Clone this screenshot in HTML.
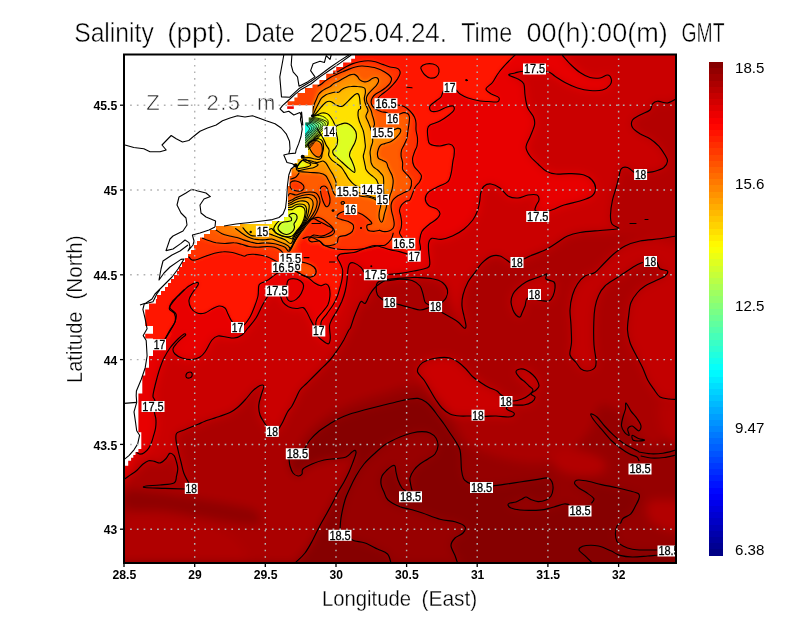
<!DOCTYPE html>
<html><head><meta charset="utf-8"><title>Salinity</title>
<style>html,body{margin:0;padding:0;background:#fff}svg{display:block}text{font-family:"Liberation Sans",sans-serif}</style></head><body>
<svg width="800" height="618" viewBox="0 0 800 618" style="opacity:0.999">
<defs><clipPath id="pc"><rect x="124.0" y="54.5" width="552.0" height="508.5"/></clipPath>
<filter id="bl" x="-5%" y="-5%" width="110%" height="110%"><feGaussianBlur stdDeviation="2.2"/></filter>
<filter id="blbig" x="-10%" y="-10%" width="120%" height="120%"><feGaussianBlur stdDeviation="5"/></filter><filter id="bl2" x="-5%" y="-5%" width="110%" height="110%"><feGaussianBlur stdDeviation="1.0"/></filter>
<clipPath id="sea"><path clip-rule="evenodd" d="M124.0 54.5H676.0V563.0H124.0Z M110 40L355 40L355 58.8L351.2 58.8L351.2 62.5L343.1 62.5L343.1 66.9L336.2 66.9L336.2 70.6L333.1 70.6L333.1 73.8L326.2 73.8L326.2 80L319.4 80L319.4 84.4L312.5 84.4L312.5 88.1L305 88.1L305 93.1L297.5 93.1L297.5 97.5L294.4 97.5L294.4 101.2L287.5 101.2L287.5 105.2L312.5 105.2L312.5 117.5L308.8 117.5L308.8 122.5L305 122.5L305 147.5L308 147.5L308 155.6L301 155.6L301 159L297.5 159L297.5 163L294.5 163L294.5 168L291.5 168L291.5 176L289.5 176L289.5 186L288 186L288 217L284 217L284 221L272 221L272 224L240 224L240 226L216 226L216 230L210 230L210 234L204 234L204 237.4L200 237.4L200 241L197 241L197 245L194 245L194 250L191 250L191 254L188 254L188 258L185 258L185 262L182 262L182 267L179 267L179 271L177 271L177 275L174 275L174 279L171 279L171 283L168 283L168 287L165 287L165 291L161 291L161 295L157 295L157 299L155.9 299L155.9 303.6L149 303.6L149 309.4L145.2 309.4L145.2 326L153 326L153 333.7L145.2 333.7L145.2 338.5L153 338.5L153 356L149 356L149 367.7L145.2 367.7L145.2 375.4L142.3 375.4L142.3 393.6L138.4 393.6L138.4 432.3L141.3 432.3L141.3 449L138.4 449L138.4 452L135.5 452L135.5 454.9L133.3 454.9L133.3 457.8L131.1 457.8L131.1 460.7L128.2 460.7L128.2 465.8L124.6 465.8L124.6 468L110 468Z"/></clipPath></defs>
<rect width="800" height="618" fill="#fff"/>
<g clip-path="url(#pc)">
<g filter="url(#blbig)">
<rect x="60" y="0" width="680" height="618" fill="#aa0000"/>
<path d="M110 479C112.4 552.1 121.1 479.6 124.6 478.9C128.1 478.1 129 475.9 131.1 474.5C133.2 473.1 135.1 471.9 137 470.2C138.9 468.5 140.9 465.9 142.8 464.3C144.7 462.7 146.7 461.2 148.6 460.7C150.5 460.2 152.4 461 154.4 461.4C156.4 461.8 158.4 463.4 160.3 462.9C162.2 462.4 164.5 460.1 166.1 458.5C167.7 456.9 168.4 453.9 169.7 453.4C171 452.9 173 454.3 174.1 455.6C175.2 456.9 175.7 459.2 176.3 461.4C176.9 463.6 175.7 465.1 177.8 468.7C179.9 472.3 187.8 482.3 188.8 483C189.7 483.7 185 476.5 183.8 473C182.5 469.5 182 465.8 181 462C180 458.2 178.8 453.7 178 450C177.2 446.3 176.2 442.8 176 440C175.8 437.2 175.5 435 176.5 433.5C177.5 432 179.8 431.8 182.1 430.8C184.3 429.8 187.3 428.6 190 427.5C192.7 426.4 195.5 425.3 198 424.3C200.5 423.3 201.3 422.6 205 421.2C208.7 419.9 215.8 417.7 220 416.2C224.2 414.8 227.1 414 230 412.5C232.9 411 235 409.6 237.5 407.5C240 405.4 242.5 402.7 245 400C247.5 397.3 250 393.7 252.5 391.2C255 388.8 258.1 386.3 260 385.5C261.9 384.7 263.5 384.7 263.8 386.2C264 387.8 262.1 391.9 261.2 395C260.4 398.1 259 401.7 258.8 405C258.5 408.3 259 411.9 260 415C261 418.1 263.7 421.6 265 423.8C266.3 425.9 266.8 426.8 268 428C269.2 429.2 270.2 430.9 272 431C273.8 431.1 277 430.2 278.8 428.8C280.5 427.3 281 425.3 282.5 422.5C284 419.7 285.9 414.8 287.5 412C289.1 409.2 290.6 408.3 292 406C293.4 403.7 294.7 400.7 296 398C297.3 395.3 298.3 392.3 300 390C301.7 387.7 304 386 306 384C308 382 309.7 380.3 312 378C314.3 375.7 317 373 320 370C323 367 327.1 363.3 330 360C332.9 356.7 335.2 353.3 337.5 350C339.8 346.7 341.9 343.3 343.8 340C345.6 336.7 347.6 332 348.8 330C349.9 328 349.6 329.9 350.5 327.8C351.4 325.6 352.8 320.5 354 317.2C355.2 314 356.3 311.1 357.5 308.5C358.7 305.9 359.7 302.4 361 301.5C362.3 300.6 363.9 304.4 365.4 303.2C366.9 302.1 368.1 297.1 369.8 294.5C371.4 291.9 373 289.5 375 287.5C377 285.5 380 283.6 382 282.2C384 280.9 384.7 280.2 387 279.6C389.3 279 392.2 278.8 396 278.5C399.8 278.2 406.4 277.9 410 277.7C413.6 277.5 413.8 277.3 417.5 277.5C421.2 277.7 428.3 277.9 432.5 278.8C436.7 279.6 440 280.6 442.5 282.5C445 284.4 445.9 286.2 447.5 290C449.1 293.8 449.2 298.7 452 305C454.8 311.3 461.7 324.5 464 328C466.3 331.5 466 328 466 326C466 324 464.7 319.3 464 316C463.3 312.7 462.2 309.5 462 306C461.8 302.5 462 299 463 295C464 291 466 285.8 468 282C470 278.2 472.7 275.4 475 272.3C477.3 269.2 479.2 265.9 481.9 263.2C484.6 260.5 488 257.6 491 256.4C494 255.2 496.8 255 500 256C503.2 257 507.2 261.5 510 262.5C512.8 263.5 514.7 262.6 517 262C519.3 261.4 521.8 260 524 259C526.2 258 526.5 257.5 530 256C533.5 254.5 540.8 252 545 250C549.2 248 551.2 246.3 555 244C558.8 241.7 563.3 237.9 567.5 236C571.7 234.1 574.6 233.4 580 232.5C585.4 231.6 594.7 231 600 230.5C605.3 230 608.8 229.9 612 229.5C615.2 229.1 619 229.2 619 228.3C619 227.4 613.4 226.2 612 224C610.6 221.8 610.4 219 610.5 215C610.6 211 611.5 204.6 612.5 200C613.5 195.4 615.2 191.2 616.2 187.5C617.3 183.8 617.9 180.6 618.8 177.5C619.6 174.4 619.8 170.4 621.2 168.8C622.7 167.1 625.3 166.9 627.5 167.5C629.7 168.1 632.2 171.4 634.2 172.5C636.3 173.6 637.9 174 640 174C642.1 174 644.5 173 647 172.5C649.5 172 652.2 172.1 655 171.2C657.8 170.4 661.7 169.2 663.8 167.5C665.8 165.8 667.3 163.3 667.5 161.2C667.7 159.2 666.5 157.5 665 155C663.5 152.5 661.2 149 658.8 146.2C656.2 143.5 653.1 140.8 650 138.8C646.9 136.7 642.9 135.6 640 133.8C637.1 131.9 633.8 129.8 632.5 127.5C631.2 125.2 631.2 122.1 632.5 120C633.8 117.9 637.1 116.7 640 115C642.9 113.3 647.9 111.9 650 110C652.1 108.1 651.2 105.2 652.5 103.8C653.8 102.3 655 101.4 657.5 101.2C660 101.1 664.4 103.4 667.5 103C670.6 102.6 672.2 99.7 676 99C679.8 98.3 687.7 108.8 690 99C692.3 89.2 786.7 49.8 690 40C593.3 30.2 206.7 -33.2 110 40C13.3 113.2 107.6 405.9 110 479Z" fill="#ca0000"/>
<path d="M690 236C687.7 208.8 681 235.5 676 236C671 236.5 666 237.9 660 238.8C654 239.6 645.8 239.8 640 241C634.2 242.2 629.6 243.7 625 246C620.4 248.3 616.2 251.8 612.5 255C608.8 258.2 605.4 262.1 602.5 265C599.6 267.9 597.9 270.7 595 272.5C592.1 274.3 587.9 274.1 585 276C582.1 277.9 579.6 280.8 577.5 284C575.4 287.2 573.8 290.7 572.5 295C571.2 299.3 570.2 305 570 310C569.8 315 570.8 319.6 571 325C571.2 330.4 571.7 337.5 571.5 342.5C571.3 347.5 569.2 351.7 570 355C570.8 358.3 574.2 360.2 576 362.5C577.8 364.8 579.1 367.6 581 369C582.9 370.4 585.2 371.2 587.5 371C589.8 370.8 593.6 369.3 595 367.5C596.4 365.7 596.2 363.8 596 360C595.8 356.2 594.4 351.2 594 345C593.6 338.8 593.6 328.8 593.8 322.5C593.9 316.2 594.2 312.1 595 307.5C595.8 302.9 597.1 298.6 598.8 295C600.4 291.4 602.3 288.7 605 286C607.7 283.3 611.7 281.2 615 279C618.3 276.8 621.7 274.7 625 272.5C628.3 270.3 632.1 267.7 635 266C637.9 264.3 639.8 263.3 642.5 262.5C645.2 261.7 648.6 261.1 651 261C653.4 260.9 655.5 260.7 657 262C658.5 263.3 658.2 267.2 660 268.8C661.8 270.2 666.7 269.8 667.5 271C668.3 272.2 667.1 274.3 665 276C662.9 277.7 658.3 279.3 655 281C651.7 282.7 647.9 284.1 645 286C642.1 287.9 639.8 289.8 637.5 292.5C635.2 295.2 632.5 298.8 631 302.5C629.5 306.2 629.3 310.4 628.8 315C628.2 319.6 627.3 325.4 627.5 330C627.7 334.6 628.6 338.3 630 342.5C631.4 346.7 633.9 350.8 636 355C638.1 359.2 640.5 363.3 642.5 367.5C644.5 371.7 645.8 376.4 647.7 380C649.6 383.6 651.8 386.4 653.8 389.2C655.8 392 657.4 395.4 660 397C662.6 398.6 666.5 398.6 669.2 399C671.9 399.4 672.5 399.3 676 399.4C679.5 399.5 687.7 426.6 690 399.4C692.3 372.2 692.3 263.2 690 236Z" fill="#c30000"/>
<path d="M700 99C696 76.2 681.4 98.3 676 99C670.6 99.7 670.6 102.6 667.5 103C664.4 103.4 660 101.1 657.5 101.2C655 101.4 653.8 102.3 652.5 103.8C651.2 105.2 652.1 108.1 650 110C647.9 111.9 642.9 113.3 640 115C637.1 116.7 633.8 117.9 632.5 120C631.2 122.1 631.2 125.2 632.5 127.5C633.8 129.8 637.1 131.9 640 133.8C642.9 135.6 646.9 136.7 650 138.8C653.1 140.8 656.2 143.5 658.8 146.2C661.2 149 663.5 152.5 665 155C666.5 157.5 667.7 159.2 667.5 161.2C667.3 163.3 665.8 165.8 663.8 167.5C661.7 169.2 657.8 170.4 655 171.2C652.2 172.1 649.5 172 647 172.5C644.5 173 642.1 174 640 174C637.9 174 636.3 173.6 634.2 172.5C632.2 171.4 629.7 168.1 627.5 167.5C625.3 166.9 622.7 167.1 621.2 168.8C619.8 170.4 619.6 174.4 618.8 177.5C617.9 180.6 617.3 183.8 616.2 187.5C615.2 191.2 613.5 195.4 612.5 200C611.5 204.6 610.6 211 610.5 215C610.4 219 610.6 221.8 612 224C613.4 226.2 619 227.4 619 228.3C619 229.2 615.2 229.1 612 229.5C608.8 229.9 605.3 230 600 230.5C594.7 231 573.3 231.6 580 232.5C586.7 233.4 620 235.4 640 236C660 236.6 690 258.8 700 236C710 213.2 704 121.8 700 99Z" fill="#b30000"/>
<path d="M544 275C545.8 274.3 546.7 273.3 547 274C547.3 274.7 544.8 277.7 546 279C547.2 280.3 552.5 280.5 554 282C555.5 283.5 555.2 285.7 555 288C554.8 290.3 554 293.8 553 296C552 298.2 551 300.2 549 301C547 301.8 544.5 301 541 300.5C537.5 300 530.7 297.1 528 298C525.3 298.9 526 303.5 525 306C524 308.5 522.8 311.2 522 313C521.2 314.8 521 316.7 520 317C519 317.3 517.2 316.2 516 315C514.8 313.8 513.8 312.2 513 310C512.2 307.8 511 304.7 511 302C511 299.3 511.8 296.3 513 294C514.2 291.7 515.8 290 518 288C520.2 286 523 283.7 526 282C529 280.3 533 279.2 536 278C539 276.8 542.2 275.7 544 275Z" fill="#c30000"/>
<path d="M424 380C426.1 383 428 386.7 430 390C432 393.3 434 397 436 400C438 403 439.7 405.7 442 408C444.3 410.3 447 412.7 450 414C453 415.3 456.4 415.7 460 416C463.6 416.3 467.6 415.9 471.6 416C475.6 416.1 479.9 416.4 484 416.4C488.1 416.4 492 415.9 496 416C500 416.1 505.2 417 508 417C510.8 417 512 416.7 513 416C514 415.3 514.8 414 514 413C513.2 412 509.3 410.8 508 410C506.7 409.2 506.2 408.7 506.4 408C506.6 407.3 507.9 406.5 509 406C510.1 405.5 510.5 405.2 513 405C515.5 404.8 520.8 405.5 524 405C527.2 404.5 530.2 403.3 532 402C533.8 400.7 535.2 398.3 535 397C534.8 395.7 530.8 395.2 531 394C531.2 392.8 534.7 391.3 536 390C537.3 388.7 538.8 387.7 539 386C539.2 384.3 538 381.8 537 380C536 378.2 534.8 376.7 533 375C531.2 373.3 528.2 371 526 370C523.8 369 521.7 368.7 520 369C518.3 369.3 516 370.5 516 372C516 373.5 518.5 376.3 520 378C521.5 379.7 523.5 380.7 525 382C526.5 383.3 527.7 384.7 529 386C530.3 387.3 533 388.5 533 390C533 391.5 530.8 393.5 529 395C527.2 396.5 524.7 398 522 399C519.3 400 515.7 401.2 513 401C510.3 400.8 508.2 399.2 506 398C503.8 396.8 501.5 395.2 500 394C498.5 392.8 499 392.2 497 391C495 389.8 490.8 388.5 488 387C485.2 385.5 482.7 383.8 480 382C477.3 380.2 474.3 378.2 472 376C469.7 373.8 468.3 371.3 466 369C463.7 366.7 460.7 363.8 458 362C455.3 360.2 453 358.7 450 358C447 357.3 443.7 357.3 440 357.6C436.3 357.9 431.3 358.8 428 360C424.7 361.2 421.7 363 420 365C418.3 367 416.9 369.5 417.6 372C418.3 374.5 421.9 377 424 380Z" fill="#cb0000"/>
<path d="M296 452C298.7 448.2 300.7 441.3 305 436C309.3 430.7 315.3 425 322 420C328.7 415 335.3 410.3 345 406C354.7 401.7 367.5 397.3 380 394C392.5 390.7 408.3 382.5 420 386C431.7 389.5 441.7 405.2 450 415C458.3 424.8 458.3 437.2 470 445C481.7 452.8 505 459.8 520 462C535 464.2 548.3 463.3 560 458C571.7 452.7 583.3 438.8 590 430C596.7 421.2 594.2 407.5 600 405C605.8 402.5 616.7 408.3 625 415C633.3 421.7 639.2 440.8 650 445C660.8 449.2 683.3 415.8 690 440C696.7 464.2 757.5 565 690 590C622.5 615 350.8 594.5 285 590C219.2 585.5 290.4 571.2 295 563C299.6 554.8 307.2 548.8 312.5 540.5C317.8 532.2 322.8 521.1 327 513C331.2 504.9 334.3 498.8 338 492C341.7 485.2 346.2 478.7 349 472C351.8 465.3 355.5 454.3 355 452C354.5 449.7 351.2 456.5 346 458C340.8 459.5 331.2 459 324 461C316.8 463 307.3 467.3 303 470C298.7 472.7 300 477 298 477C296 477 292.5 473 291 470C289.5 467 288.2 462 289 459C289.8 456 293.3 455.8 296 452Z" fill="#960000"/>
<path d="M126 491C131.7 488.3 147.7 491.7 160 493C172.3 494.3 187.5 497 200 499C212.5 501 225.7 503 235 505C244.3 507 251.8 507.8 256 511C260.2 514.2 263.5 522 260 524C256.5 526 245 524.2 235 523C225 521.8 211.7 519 200 517C188.3 515 177.3 512.3 165 511C152.7 509.7 132.5 512.3 126 509C119.5 505.7 120.3 493.7 126 491Z" fill="#8f0000"/>
<path d="M128 520C133.3 511.3 148 517.3 160 518C172 518.7 187.5 520.3 200 524C212.5 527.7 228.3 532.3 235 540C241.7 547.7 257.8 565 240 570C222.2 575 146.7 578.3 128 570C109.3 561.7 122.7 528.7 128 520Z" fill="#b00000"/>
<path d="M660 405C661.7 400.8 667 402.2 672 403C677 403.8 687 403 690 410C693 417 693 439.7 690 445C687 450.3 676.7 444.8 672 442C667.3 439.2 664 434.2 662 428C660 421.8 658.3 409.2 660 405Z" fill="#b60000"/>
<path d="M648 503C650.5 499.7 658 499.7 665 500C672 500.3 685.8 500 690 505C694.2 510 693.7 525.8 690 530C686.3 534.2 674.7 531.7 668 530C661.3 528.3 653.3 524.5 650 520C646.7 515.5 645.5 506.3 648 503Z" fill="#b20000"/>
<path d="M552 455C554.5 451.7 567 449.5 575 450C583 450.5 595 454.7 600 458C605 461.3 607.5 467 605 470C602.5 473 592.5 476 585 476C577.5 476 565.5 473.5 560 470C554.5 466.5 549.5 458.3 552 455Z" fill="#b20000"/>
<path d="M305 448C307.2 445.7 307.8 442.7 310 440C312.2 437.3 315 434.5 318 432C321 429.5 324.7 427.2 328 425C331.3 422.8 334.3 420.8 338 419C341.7 417.2 345.7 415.5 350 414C354.3 412.5 359 411.3 364 410C369 408.7 374.7 407.3 380 406C385.3 404.7 391.3 403.1 396 402C400.7 400.9 404.3 400 408 399.4C411.7 398.8 415 398 418 398.4C421 398.8 423.7 400.4 426 402C428.3 403.6 430 405.7 432 408C434 410.3 436 413.3 438 416C440 418.7 442 421.2 444 424C446 426.8 448 430 450 433C452 436 454.3 439.2 456 442C457.7 444.8 459.2 447 460 450C460.8 453 460.8 456.7 461 460C461.2 463.3 461.1 466.9 461.5 470C461.9 473.1 462.6 476.5 463.5 478.5C464.4 480.5 465.9 481.2 467 482C468.1 482.8 467.7 482.6 470 483.4C472.3 484.2 477.2 486.6 481 487C484.8 487.4 489.2 486.4 493 486C496.8 485.6 499.5 485.1 504 484.4C508.5 483.7 514.7 482.8 520 482C525.3 481.2 531.3 480.3 536 479.6C540.7 478.9 545.3 477.6 548 478C550.7 478.4 551.2 480.2 552 482C552.8 483.8 553.2 486.7 553 489C552.8 491.3 552.2 494.2 551 496C549.8 497.8 548.2 499.1 546 500C543.8 500.9 540.5 501.7 538 501.6C535.5 501.5 533 500.4 531 499.6C529 498.8 527.5 497.1 526 497C524.5 496.9 523.7 498.2 522 499C520.3 499.8 518 501.3 516 502C514 502.7 511.3 502.5 510 503C508.7 503.5 507.8 504.2 508 505C508.2 505.8 509 507.2 511 508C513 508.8 516.5 509.6 520 510C523.5 510.4 528 510.5 532 510.4C536 510.3 540.3 510.2 544 509.6C547.7 509 550.7 507.9 554 507C557.3 506.1 561.5 504.4 564 504C566.5 503.6 566.3 503.3 569 504.5C571.7 505.7 576.2 511.2 580 511C583.8 510.8 590 504.3 592 503C594 501.7 591.4 503.8 591.7 503C592 502.2 594.8 500.3 593.8 498.5C592.8 496.7 588.5 494.1 586 492.3C583.5 490.5 580.4 489.2 578.5 487.7C576.6 486.1 574.5 484.3 574.5 483C574.5 481.7 576 480.2 578.5 480C581 479.8 585.4 480.7 589.2 481.5C593 482.3 596.9 483.6 601.5 484.6C606.1 485.6 612.4 486.7 617 487.7C621.6 488.7 625.6 489.8 629.2 490.8C632.8 491.8 636.9 492.5 638.5 493.8C640.1 495.1 639.5 496.5 639 498.5C638.5 500.5 636.8 503.4 635.4 506C634 508.6 632.9 511.7 630.8 513.8C628.7 515.9 624.7 517 623 518.5C621.3 520 621.6 521.8 620.6 523C619.6 524.2 617.9 524.2 617 526C616.1 527.8 615.4 531.2 615.4 533.8C615.4 536.4 615.7 539.5 617 541.5C618.3 543.5 620.5 544.7 623 546C625.5 547.3 628.7 548.5 632.3 549.2C635.9 549.9 640.5 549.9 644.6 550C648.7 550.1 649.4 550 657 550C664.6 550 684.5 545 690 550C695.5 555 786.7 575 690 580C593.3 585 206.7 582.8 110 580C13.3 577.2 79.2 565.8 110 563C140.8 560.2 264.2 563 295 563C325.8 563 293.3 564.7 295 563C296.7 561.3 302.1 556.8 305 553C307.9 549.2 310 545.1 312.5 540.5C315 535.9 317.6 530.1 320 525.5C322.4 520.9 324.7 517.2 327 513C329.3 508.8 332.2 503.5 334 500C335.8 496.5 336.3 495 338 492C339.7 489 342.2 485.3 344 482C345.8 478.7 347.5 475.3 349 472C350.5 468.7 351.8 465.2 353 462C354.2 458.8 355.7 454.9 356 453C356.3 451.1 355.7 450.6 355 450.4C354.3 450.2 353.5 450.9 352 452C350.5 453.1 348.7 455.9 346 457C343.3 458.1 339.7 458.1 336 458.6C332.3 459.1 328 459.1 324 460C320 460.9 315.5 462.5 312 464C308.5 465.5 304.7 467.3 303 469C301.3 470.7 302.8 472.8 302 474C301.2 475.2 299.5 476.2 298 476C296.5 475.8 294.3 474.7 293 473C291.7 471.3 290.7 468.3 290 466C289.3 463.7 287.8 461 289 459C290.2 457 294.3 455.8 297 454C299.7 452.2 302.8 450.3 305 448Z" fill="#860000"/>
<path d="M351 539C349.2 538.3 341.8 536.5 340 535C338.2 533.5 339.8 532.8 340 530C340.2 527.2 340.2 523 341 518C341.8 513 343.5 505 345 500C346.5 495 348.2 492 350 488C351.8 484 353.7 480 356 476C358.3 472 361 467.7 364 464C367 460.3 370.3 457.3 374 454C377.7 450.7 381.7 446.8 386 444C390.3 441.2 395.7 438.8 400 437C404.3 435.2 408.3 433.9 412 433C415.7 432.1 419 431.6 422 431.6C425 431.6 427.7 431.9 430 433C432.3 434.1 434.7 435.8 436 438C437.3 440.2 438.2 443.3 438 446C437.8 448.7 436.7 451.8 435 454C433.3 456.2 430.5 457.3 428 459C425.5 460.7 422.3 462.2 420 464C417.7 465.8 415.7 467.7 414 470C412.3 472.3 410.5 475.3 410 478C409.5 480.7 410.7 484 411 486C411.3 488 412 488.4 412 490C412 491.6 411.8 495.3 410.8 495.5C409.8 495.7 407.5 492.2 406 491C404.5 489.8 403.3 489.8 402 488C400.7 486.2 399 482.7 398 480C397 477.3 396.5 474.3 396 472C395.5 469.7 395.7 467 395 466C394.3 465 393.3 465.3 392 466C390.7 466.7 388.7 468.3 387 470C385.3 471.7 383 473.7 382 476C381 478.3 380.7 481.3 381 484C381.3 486.7 382.8 489.3 384 492C385.2 494.7 385.3 497.5 388 500C390.7 502.5 396.3 505.2 400 506.8C403.7 508.3 406.2 508.2 410 509.2C413.8 510.3 417.5 511.3 422.5 513C427.5 514.7 434.6 517.8 440 519.2C445.4 520.7 450.8 520.5 455 521.8C459.2 523 463.7 524.9 465 526.8C466.3 528.6 464.7 531.1 463 533C461.3 534.9 457 535.9 455 538C453 540.1 451 542.6 451 545.5C451 548.4 453.9 552.6 455 555.5C456.1 558.4 468.2 561.8 457.5 563C446.8 564.2 402.1 563 391 563C379.9 563 391.6 564.5 391 563C390.4 561.5 389.8 556.3 387.5 554C385.2 551.7 381.2 550.8 377.5 549C373.8 547.2 368.8 544.3 365 543C361.2 541.7 357.3 541.7 355 541C352.7 540.3 351.7 539.3 351 539C350.3 538.7 352.8 539.7 351 539Z" fill="#980000"/>
<path d="M110 454C114.5 522.8 132 452.7 137 452.7C142 452.7 138.7 454.1 139.9 454.1C141.1 454.1 142.8 453.7 144.2 452.7C145.6 451.7 147.4 450 148.6 448.3C149.8 446.6 150.7 444.7 151.5 442.5C152.3 440.3 153 437.6 153.7 435.2C154.4 432.8 155.2 430.6 155.6 427.9C156 425.2 156.1 421.9 155.9 419.2C155.7 416.5 154.6 414.9 154.4 411.9C154.2 408.9 155.2 403.6 155 401C154.8 398.4 153.2 398.4 153 396.6C152.8 394.8 153.3 393.1 154 390C154.7 386.9 156 381.7 157 378C158 374.3 158.8 371.3 160 368C161.2 364.7 162.3 361.3 164 358C165.7 354.7 167.7 351.2 170 348C172.3 344.8 175.7 341.3 178 339C180.3 336.7 182.7 334.7 184 334C185.3 333.3 185.9 334.3 185.6 335C185.3 335.7 183.4 336.7 182 338C180.6 339.3 178.5 341.2 177 343C175.5 344.8 173.3 347.2 173 349C172.7 350.8 173.5 352.5 175 354C176.5 355.5 179.2 357.1 182 358C184.8 358.9 189 359.8 192 359.6C195 359.4 197.8 358.3 200 357C202.2 355.7 203 354.8 205 352C207 349.2 209.8 342.7 212 340C214.2 337.3 215.7 336.5 218 336C220.3 335.5 223.3 336.7 226 337C228.7 337.3 231.3 338.3 234 338C236.7 337.7 239.7 336.7 242 335C244.3 333.3 245.7 330.8 248 328C250.3 325.2 253.7 321.7 256 318C258.3 314.3 260 309.7 262 306C264 302.3 266.3 298.3 268 296C269.7 293.7 270.5 292.8 272 292C273.5 291.2 275.6 290.3 277 291C278.4 291.7 279.5 294.4 280.5 296.2C281.5 298.1 281.8 300.6 283.1 302.4C284.4 304.1 286.2 305.7 288.4 306.8C290.6 307.8 293.8 308.4 296.2 308.5C298.7 308.6 301.5 307 303.2 307.6C305 308.2 305.6 310.1 306.8 312C307.9 313.9 309.1 316.7 310.2 319C311.4 321.3 312.8 323.8 313.8 326C314.7 328.2 315.3 330.2 316 332C316.7 333.8 316.9 335.1 318 336.5C319.1 337.9 320.8 339.3 322.5 340.5C324.2 341.7 327.2 344.2 328.5 343.8C329.8 343.3 330.1 341 330.3 338C330.5 335 329.2 329.2 329.5 326C329.8 322.8 330.8 321.6 332.1 319C333.4 316.4 335.8 313.2 337.4 310.2C339 307.3 340.4 304.7 341.8 301.5C343.1 298.3 344.4 294.5 345.2 291C346.1 287.5 346.6 284 347 280.5C347.4 277 347.5 272.8 347.9 270C348.3 267.2 348.6 265.1 349.6 263.9C350.6 262.7 352.1 262.4 354 263C355.9 263.6 359.2 265.8 361 267.4C362.8 269 363 271.4 364.5 272.6C366 273.8 368.2 274.1 370 274.5C371.8 274.9 372.6 274.8 375.4 274.8C378.2 274.8 382.6 274.7 386.8 274.5C391 274.3 395.9 274 400.4 273.4C404.9 272.8 409.5 271.9 414 271C418.5 270.1 424.9 269 427.5 267.7C430.1 266.4 429.6 265.8 429.8 263.2C430 260.6 428.9 255.3 428.7 251.9C428.5 248.5 428.1 245.1 428.7 242.8C429.2 240.5 429.9 238.9 432 238.3C434.1 237.7 437.6 239.8 441 239.4C444.4 239 448.6 237.7 452.4 236C456.2 234.3 460.4 231.9 463.8 229.2C467.2 226.5 470.5 223 472.8 220C475.1 217 476.3 214 477.4 211C478.5 208 479.1 205 479.6 202C480.2 199 480 195.6 480.7 193C481.4 190.4 482.3 187.7 484 186.2C485.7 184.7 488.3 183.7 491 184C493.7 184.3 497.2 186 500 188C502.8 190 505 194.3 508 196C511 197.7 514.7 198.2 518 198C521.3 197.8 524.8 195.5 528 195C531.2 194.5 535.2 194.2 537 195C538.8 195.8 539.2 198.2 539 200C538.8 201.8 536.5 204.2 536 206C535.5 207.8 533.8 210.2 536 211C538.2 211.8 544.3 212 549 211C553.7 210 558.8 206.7 564 205C569.2 203.3 575.3 202.5 580 201C584.7 199.5 589.4 198.2 592 196C594.6 193.8 595.6 190.7 595.6 188C595.6 185.3 593.9 182.2 592 180C590.1 177.8 587.7 176.1 584 175C580.3 173.9 574.7 173.8 570 173.6C565.3 173.4 560 174.4 556 174C552 173.6 549 172.7 546 171C543 169.3 540.7 166.5 538 164C535.3 161.5 532 158.8 530 156C528 153.2 526 150.2 526 147C526 143.8 528.6 140.7 530 137C531.4 133.3 533.9 128.3 534.5 125C535.1 121.7 534.7 119.9 533.5 117C532.3 114.1 528.9 111.2 527.5 107.5C526.1 103.8 525.6 99 525 95C524.4 91 525 86.5 523.8 83.8C522.5 81 520 80.2 517.5 78.8C515 77.3 509.2 76 508.8 75C508.3 74 512.6 73.6 515 73C517.4 72.4 517.8 71.5 523 71.2C528.2 71 540.9 70.4 546.2 71.2C551.6 72.1 551.9 74.4 555 76.2C558.1 78.1 561.2 80.5 565 82.5C568.8 84.5 573.3 86.7 577.5 88C581.7 89.3 585.8 90.2 590 90.5C594.2 90.8 599.2 90.9 602.5 90C605.8 89.1 608.5 86.9 610 85C611.5 83.1 611.7 80.4 611.2 78.8C610.8 77.1 609.4 75.1 607.5 75C605.6 74.9 602.9 77.6 600 78C597.1 78.4 593.3 78.4 590 77.5C586.7 76.6 583.1 74.6 580 72.5C576.9 70.4 574.2 67.8 571.2 65C568.3 62.2 564 59.7 562.5 55.5C561 51.3 637.4 42.6 562 40C486.6 37.4 185.3 -29 110 40C34.7 109 105.5 385.2 110 454Z" fill="#e80000"/>
</g>
<g filter="url(#bl)">
<path d="M110 345C119.2 394.8 155 341.5 165 339C175 336.5 168.3 332.8 170 330C171.7 327.2 174 324.7 175 322C176 319.3 176.8 316.3 176 314C175.2 311.7 170.7 310 170 308C169.3 306 170.3 304.3 172 302C173.7 299.7 177.2 296.7 180 294C182.8 291.3 186.2 287.9 189 286C191.8 284.1 195.5 282.6 197 282.4C198.5 282.2 198.7 283.4 198 285C197.3 286.6 194.5 289.5 193 292C191.5 294.5 189.3 297.3 189 300C188.7 302.7 189.7 305.8 191 308C192.3 310.2 194.7 312.2 197 313C199.3 313.8 202.5 313.7 205 313C207.5 312.3 209.7 310.2 212 309C214.3 307.8 216.8 306.2 219 306C221.2 305.8 223.5 306.7 225 308C226.5 309.3 227 312 228 314C229 316 230.2 318.6 231 320C231.8 321.4 231.9 321.2 233 322.4C234.1 323.6 236 326.8 237.8 327.2C239.6 327.6 242 326.7 244 325C246 323.3 248.3 319.8 250 317C251.7 314.2 252.7 311.5 254 308C255.3 304.5 257.2 299.8 258 296C258.8 292.2 258 287.3 259 285C260 282.7 262.5 282.8 264 282C265.5 281.2 266.7 280.8 268 280C269.3 279.2 270.3 278.2 272 277C273.7 275.8 275.7 273.8 278 273C280.3 272.2 283.2 272.4 286 272C288.8 271.6 291.9 270.1 294.5 270.5C297.1 270.9 299.2 273.2 301.5 274.4C303.8 275.6 306.3 276.4 308.5 277.9C310.7 279.3 312.6 281.8 314.6 283.1C316.6 284.4 318.9 285.6 320.8 285.8C322.6 285.9 324.6 283.7 326 284C327.4 284.3 328.6 285.5 329.2 287.5C329.8 289.5 330.1 293.3 329.9 296.2C329.7 299.2 329 302.4 327.8 305C326.5 307.6 324.3 309.7 322.5 312C320.7 314.3 318 316.7 316.9 319C315.8 321.3 315.6 324.2 315.9 326C316.2 327.8 317.7 330 318.5 330C319.3 330 320.2 327.5 320.8 326C321.3 324.5 320.6 322.8 321.6 320.8C322.6 318.7 325 316.4 326.9 313.8C328.8 311.1 331.2 307.9 333 305C334.8 302.1 336.2 299.2 337.4 296.2C338.6 293.3 339.2 290.4 340 287.5C340.8 284.6 341.7 281.7 342.1 278.8C342.5 275.8 343 272.6 342.6 270C342.2 267.4 340.9 265 340 263C339.1 261 337.4 259.2 337.4 257.8C337.4 256.3 338.7 255 340 254.2C341.3 253.5 342.9 253.7 345.2 253.4C347.6 253.1 351.4 253.1 354 252.5C356.6 251.9 358.7 250.8 361 249.9C363.3 249 365.7 248 368 247.2C370.3 246.5 372.7 245.5 375 245.5C377.3 245.5 379.4 246.5 382 247.2C384.6 248 387.8 249.2 390.8 249.9C393.7 250.6 396.6 250.9 399.5 251.6C402.4 252.3 405.8 253.5 408.2 254.2C410.7 255 412.2 257 414.2 256.2C416.2 255.4 419.4 252.2 420.3 249.6C421.2 247 419.3 243.6 419.6 240.6C419.9 237.6 420.4 234.2 421.9 231.5C423.4 228.8 426.2 226.8 428.7 224.7C431.1 222.6 434.7 220.9 436.6 219C438.5 217.1 440 215.1 440 213.4C440 211.7 438.5 210.2 436.6 208.9C434.7 207.6 430.6 207.2 428.7 205.5C426.8 203.8 425.3 201 425.3 198.7C425.3 196.4 426.4 194 428.7 191.9C431 189.8 435.7 187.9 438.9 186.2C442.1 184.5 445.8 184 447.9 181.7C450 179.4 450.5 176 451.3 172.6C452.1 169.2 452.4 164.1 452.9 161.3C453.3 158.5 453.8 158.2 454 156C454.2 153.8 454.8 150 454 148C453.2 146 451.3 144.3 449 144C446.7 143.7 443.2 146 440 146C436.8 146 432 145.3 430 144C428 142.7 428.4 140.5 428 138C427.6 135.5 427.3 131.2 427.6 129C427.9 126.8 427.9 126.3 430 125C432.1 123.7 436.8 122.7 440 121C443.2 119.3 446.7 116.8 449 115C451.3 113.2 453.3 111.5 454 110C454.7 108.5 454.2 106.5 453 106C451.8 105.5 449.5 106.2 447 107C444.5 107.8 440.7 110.3 438 111C435.3 111.7 432.3 111.8 431 111C429.7 110.2 429.2 107.7 430 106C430.8 104.3 434.2 102.5 436 101C437.8 99.5 439.7 98.7 441 97C442.3 95.3 442.1 92.6 443.6 91C445.1 89.4 447.7 87.6 449.8 87.4C451.9 87.2 454.3 88.9 456 90C457.7 91.1 458 92.7 460 94C462 95.3 464.7 96.8 468 98C471.3 99.2 476.7 100.4 480 101C483.3 101.6 485.1 101.4 488 101.5C490.9 101.6 495.7 102.4 497.5 101.8C499.3 101.1 499.8 98.8 498.8 97.5C497.7 96.2 493.1 95.2 491 93.8C488.9 92.3 485.8 90.6 486 88.8C486.2 86.9 490.4 85.2 492.5 82.5C494.6 79.8 496.2 75.8 498.8 72.5C501.2 69.2 504.8 65.4 507.5 62.5C510.2 59.6 513.8 58.8 515 55C516.2 51.2 582.5 42.5 515 40C447.5 37.5 177.5 -10.8 110 40C42.5 90.8 100.8 295.2 110 345Z" fill="#ff1400"/>
<path d="M287.5 281.4C288.5 278.5 290.6 278.8 292.8 278.8C294.9 278.7 298.8 279.7 300.6 280.9C302.4 282.1 303.5 283.6 303.6 285.8C303.7 287.9 302.4 291.3 301.2 293.6C300 295.9 298.1 298.1 296.2 299.4C294.4 300.7 291.6 301.7 290 301.2C288.4 300.7 287 299.6 286.6 296.2C286.2 292.9 286.5 284.3 287.5 281.4Z" fill="#e60000"/>
<path d="M325 70C335.6 72.2 331.2 73 333.3 73.3C335.4 73.6 335.6 72.7 337.5 71.8C339.4 70.8 342.4 68.8 344.9 67.5C347.4 66.2 349.8 64.8 352.2 63.9C354.7 62.9 357 62.3 359.6 61.8C362.2 61.3 365.4 60.7 368 60.7C370.6 60.7 372.9 61.2 375.4 61.8C377.8 62.4 380.3 63.5 382.7 64.4C385.1 65.3 387.7 66.4 390 67C392.3 67.6 394.7 67.5 396.3 68C397.9 68.5 398.9 69.2 399.5 70.2C400.1 71.2 400.4 72.4 400 73.8C399.6 75.3 398.5 77.3 397.4 79.1C396.3 80.8 394.8 82.6 393.2 84.3C391.6 86.1 389.8 88 388 89.6C386.2 91.2 384.2 92.6 382.7 93.8C381.2 95 379.8 95.9 379 97C378.2 98 377 98.8 378 100.1C379 101.4 381.8 103.7 385 104.5C388.2 105.3 394.1 104.7 397.2 105C400.4 105.3 401.9 105.5 404 106.5C406.1 107.5 408.2 109.2 410 111C411.8 112.8 413.5 115 414.5 117C415.5 119 415.8 120.8 416 123C416.2 125.2 415.8 127.5 416 130C416.2 132.5 417.3 135.3 417.5 138C417.7 140.7 417.5 143.7 417 146C416.5 148.3 415.2 149.8 414.5 152C413.8 154.2 412.6 156.7 412.5 159C412.4 161.3 413 163.9 414 166C415 168.1 417.2 169.8 418.5 171.5C419.8 173.2 421.3 174.3 421.5 176C421.7 177.7 420.7 179.8 419.6 181.7C418.5 183.6 416.6 184.5 415 187.5C413.4 190.5 411.5 197.4 410 199.7C408.5 201.9 407.2 200.3 405.8 201.2C404.4 202.1 402.7 203.4 401.6 204.9C400.6 206.4 399.7 208.4 399.5 210.2C399.3 211.9 400.2 213.5 400.6 215.4C400.9 217.3 401.5 219.6 401.6 221.7C401.7 223.8 401.5 226.1 401.1 228C400.8 229.9 399.2 231.3 399.5 233C399.8 234.7 402.5 236.5 402.6 238.3C402.7 240.1 401.7 242.9 400 244C398.3 245.1 394.9 244.8 392.5 245C390.1 245.2 387.9 244.8 385.4 244.9C382.9 245 381.3 245.2 377.7 245.8C374.1 246.4 368.9 248 364 248.7C359.1 249.3 353.3 249.7 348.5 249.7C343.7 249.7 338.9 249.3 335 248.7C331.1 248 327.8 247.1 325.2 245.8C322.6 244.5 322 242.5 319.4 241C316.8 239.5 312.4 237.4 309.7 237C307 236.6 304.9 237 303 238.5C301.1 240 298.5 243.1 298 246C297.5 248.9 298.7 253.3 300 256C301.3 258.7 304 260.3 306 262C308 263.7 310.3 264.3 312 266C313.7 267.7 316.2 270.2 316 272C315.8 273.8 313 276.3 311 277C309 277.7 306.3 276.8 304 276C301.7 275.2 299.3 273.2 297 272C294.7 270.8 292.3 269.8 290 269C287.7 268.2 284.8 268 283 267C281.2 266 280.5 264.2 279 263C277.5 261.8 275.6 261 273.8 260C271.9 259 269.9 257.8 267.8 257C265.6 256.2 263.4 255.6 261 255.2C258.6 254.8 255.8 254.4 253.5 254.3C251.2 254.2 249 254.4 247.5 254.8C246 255.1 245.8 256.2 244.5 256.2C243.2 256.2 242 255.4 240 254.8C238 254.1 235.2 253 232.5 252.5C229.8 252 226.5 251.6 223.5 251.8C220.5 251.9 217.5 252.5 214.5 253.2C211.5 254 208.2 255.2 205.5 256.2C202.8 257.2 200.2 258.6 198 259.2C195.8 259.9 193.5 260.4 192 260C190.5 259.6 192.7 258.7 189 257C185.3 255.3 173.2 259.5 170 250C166.8 240.5 153.3 208.3 170 200C186.7 191.7 253.3 223.3 270 200C286.7 176.7 260.8 81.7 270 60C279.2 38.3 314.4 67.8 325 70Z" fill="#ff3100"/>
<path d="M287 101C288.3 99 291.8 96.2 295 94C298.2 91.8 302.2 89.7 306 88C309.8 86.3 316.3 82.7 318 84C319.7 85.3 316.8 92.5 316 96C315.2 99.5 315.7 103.3 313 105C310.3 106.7 304.3 105.8 300 106C295.7 106.2 289.2 106.8 287 106C284.8 105.2 285.7 103 287 101Z" fill="#ff4200"/>
<path d="M318 86C318.9 84 320.2 85 321.5 84C322.8 83 324.4 81.3 326 80.2C327.6 79 329.5 78 331.2 77C333 76 334.6 75.3 336.5 74.4C338.4 73.5 340.7 72.6 342.8 71.8C344.9 70.9 347 69.9 349.1 69.1C351.2 68.3 353.3 67.5 355.4 67C357.5 66.5 359.6 66.1 361.7 66C363.8 65.9 365.9 66.2 368 66.5C370.1 66.8 372.2 67 374.3 67.5C376.4 68.1 378.7 68.8 380.6 69.7C382.5 70.5 384.3 71.8 385.9 72.8C387.4 73.8 389 74.9 390 76C391 77 391.6 77.9 391.6 79.1C391.6 80.3 391 81.9 390 83.3C389 84.7 387.4 86.2 385.9 87.5C384.3 88.8 382.4 90.1 380.6 91.2C378.9 92.3 376.8 93.2 375.4 94.3C374 95.4 372.9 96.7 372.2 98C371.5 99.3 371.1 100.8 371.1 102.2C371.2 103.6 371.8 105.2 372.7 106.4C373.6 107.6 374.9 108.7 376.4 109.5C377.9 110.4 379.9 111.1 381.6 111.7C383.4 112.2 385.1 112.1 386.9 112.7C388.7 113.3 390.7 115.2 392.7 115.5C394.7 115.8 397.2 114.7 399 114.2C400.8 113.7 402.2 112.7 403.7 112.6C405.2 112.5 406.9 112.9 407.9 113.7C408.9 114.5 409.3 115.7 409.5 117.3C409.7 119 409.3 121.4 409 123.7C408.7 125.9 408.3 128.6 407.9 131C407.5 133.4 407.5 136.1 406.9 138.3C406.2 140.6 405.1 142.7 404.2 144.7C403.3 146.6 402.1 148 401.6 149.9C401.1 151.8 400.9 154.1 401.1 156.2C401.3 158.3 402.4 160.3 402.6 162.5C402.9 164.7 402.1 167.4 402.6 169.2C403.2 171 404.8 172.2 405.8 173.4C406.9 174.6 408 175.3 408.9 176.6C409.9 177.8 411.3 178.9 411.5 181C411.7 183.1 411.1 187.3 410 189.2C408.9 191 406.7 191.2 404.8 192.3C402.8 193.4 400.4 194.2 398.4 195.4C396.5 196.7 394.4 198.1 393.2 199.7C392 201.2 391.4 203 391.1 204.9C390.8 206.8 391.2 209.1 391.6 211.2C392 213.3 392.8 215.4 393.2 217.5C393.6 219.6 394.2 222.1 394.2 223.8C394.2 225.6 394.1 226.8 393.2 228C392.3 229.2 390.7 230.4 389 231C387.3 231.6 384.6 231.6 383 231.5C381.4 231.4 380.2 230.5 379.6 230.3C379 230.1 380.6 230.1 379.6 230.3C378.6 230.5 375.7 231.3 373.8 231.3C371.9 231.3 369.1 231.3 368 230.3C366.9 229.3 366.4 226.5 367 225.4C367.6 224.3 371.5 224.5 371.8 223.5C372.1 222.5 370.2 220.9 368.9 219.6C367.6 218.3 365.9 216.8 364.1 215.7C362.3 214.6 360.5 213.8 358.3 212.8C356.1 211.9 353.2 210.3 351 210C348.8 209.7 347 210.3 345 210.9C343 211.5 340.2 212.7 338.8 213.8C337.4 214.9 336.4 216.7 336.9 217.7C337.4 218.7 339.8 218.9 341.7 219.6C343.6 220.2 346.6 220.6 348.5 221.6C350.4 222.6 352.8 223.8 353.4 225.4C354 227 353.5 229.7 352.4 231.3C351.3 232.9 348.9 234.1 346.6 235.1C344.3 236.1 340.4 235.8 338.8 237.1C337.2 238.4 338.5 241.4 336.9 242.9C335.3 244.4 331.4 245.5 329.1 245.8C326.8 246.1 324.9 245.7 323.3 244.9C321.7 244.1 321.3 241.5 319.4 241C317.5 240.5 313.5 242.2 311.7 241.9C309.9 241.6 308.4 240.1 308.7 239C309 237.9 311.5 235.6 313.6 235.1C315.7 234.6 318.8 236.4 321.4 236.1C324 235.8 327.2 234.3 329.1 233.2C331 232.1 333.3 230.6 333 229.3C332.7 228 329.5 226.7 327.2 225.4C324.9 224.1 321.7 222.7 319.4 221.6C317.1 220.5 315.5 218.6 313.6 218.6C311.7 218.6 309.4 220.5 307.8 221.6C306.2 222.7 305.2 224.4 303.9 225.4C302.6 226.4 301 226.3 300 227.4C299 228.5 299.2 230.1 298 232C296.8 233.9 294.5 236.7 293 239C291.5 241.3 290.2 243.8 289 246C287.8 248.2 286.9 250.7 286 252C285.1 253.3 284.4 254.3 283.5 254C282.6 253.7 282 251.4 280.5 250.2C279 249.1 276.8 247.9 274.5 247.2C272.2 246.6 269.8 246.5 267 246.5C264.2 246.5 261 247.2 258 247.2C255 247.2 251.8 247 249 246.5C246.2 246 244 244.9 241.5 244.2C239 243.6 236.8 242.9 234 242.8C231.2 242.6 228 243.5 225 243.5C222 243.5 218.8 243.2 216 242.8C213.2 242.2 210.8 241.2 208.5 240.5C206.2 239.8 204.6 239.7 202.5 238.2C200.4 236.8 184.8 238.4 196 232C207.2 225.6 252.7 215.3 270 200C287.3 184.7 294.5 154.7 300 140C305.5 125.3 300.8 117.2 303 112C305.2 106.8 310.8 111.7 313 109C315.2 106.3 315.2 99.8 316 96C316.8 92.2 317.1 88 318 86Z" fill="#ff5b00"/>
<path d="M312.6 115.6C314.2 114.4 312.6 112.8 312.8 111C313 109.2 313.4 106.9 314 105C314.6 103.1 315.5 101.5 316.2 99.8C317 98 317.5 96 318.5 94.5C319.5 93 320.8 92 322 91C323.2 90 324.6 89.3 326 88.5C327.4 87.8 329 87.2 330.2 86.5C331.4 85.7 332 84.7 333.4 83.8C334.8 82.9 336.7 82.2 338.6 81.2C340.5 80.2 343 78.5 344.9 77.5C346.8 76.5 348.6 75.4 350.1 74.9C351.7 74.4 353.1 74.1 354.4 74.4C355.6 74.7 356.6 75.6 357.5 76.5C358.4 77.4 358.6 78.7 359.6 79.6C360.7 80.5 362.4 81.4 363.8 81.7C365.2 82 366.6 81.7 368 81.2C369.4 80.7 371 79.2 372.2 78.6C373.4 78 374.4 77.5 375.4 77.5C376.3 77.5 377.5 77.9 378 78.6C378.5 79.3 378.8 80.6 378.5 81.7C378.2 82.8 377.4 84.1 376.4 85.4C375.3 86.7 373.6 88.1 372.2 89.6C370.8 91.1 369 92.9 368 94.3C367 95.7 366.6 96.7 366.4 98C366.2 99.3 366.5 100.8 366.9 102.2C367.4 103.6 368.4 105 369.1 106.4C369.8 107.8 370.6 109.2 371.1 110.6C371.7 112 371.8 113.4 372.2 114.8C372.6 116.2 373.1 117.5 373.5 119C373.9 120.5 374.4 122.3 374.5 124C374.6 125.7 372.5 127.6 373.8 129C375.1 130.4 379 132.4 382.2 132.6C385.4 132.8 390.7 130.7 393.2 130C395.7 129.3 396.2 128.5 397.4 128.4C398.6 128.3 400.1 128.6 400.6 129.4C401 130.2 400.7 131.8 400 133.1C399.3 134.4 397.8 135.9 396.4 137.3C394.9 138.7 393 140.4 391.1 141.5C389.2 142.6 386.6 143 384.8 143.6C383.1 144.2 381.7 144.3 380.6 145.2C379.6 146.1 379 147.4 378.5 148.8C378 150.3 377.4 152.5 377.4 154.1C377.4 155.7 377.6 157.2 378.5 158.3C379.4 159.4 381.4 159.7 382.7 160.4C384 161.1 385.5 161.4 386.4 162.5C387.3 163.6 387.3 165.2 387.9 166.7C388.6 168.2 389.3 169.8 390 171.3C390.7 172.8 391.6 173.9 392.1 175.5C392.6 177.1 393.1 179 393.2 180.8C393.3 182.5 393 184.2 392.7 186C392.4 187.8 392.1 189.7 391.6 191.2C391.2 192.8 390.4 194.1 390 195.5C389.6 196.9 389.5 198.1 389 199.7C388.5 201.2 387.4 203.3 386.9 204.9C386.4 206.5 386.3 207.5 385.9 209.1C385.4 210.7 384.7 212.6 384.3 214.3C383.9 216.1 383.6 218.3 383.2 219.6C382.8 220.9 382.3 222.2 381.6 222.2C381 222.2 380 220.7 379.6 219.6C379.1 218.5 379 217 379 215.4C379 213.8 379.3 211.9 379.6 210.2C379.8 208.4 381.2 206.6 380.6 204.9C380 203.2 377.8 201.2 376 200C374.2 198.8 372.3 198.1 370.1 197.5C367.9 196.9 364.8 196.8 362.8 196.5C360.7 196.2 360.6 196.2 358 195.5C355.4 194.8 350.9 192.3 347.3 192.3C343.7 192.3 338.8 195.4 336.5 195.4C334.2 195.4 334.2 193.9 333.4 192.3C332.5 190.7 332.1 188.1 331.2 186C330.4 183.9 329 181.4 328.1 179.7C327.2 178 326.9 176.9 326 176C325.1 175.1 324.1 174.6 323 174.1C321.9 173.6 320.8 173.2 319.2 173C317.8 172.8 315.9 172.7 314 172.6C312.1 172.5 309.9 172.4 308 172.2C306.1 172.1 304.4 172 302.8 171.9C301.1 171.8 300.4 171.8 298.2 171.5C296.1 171.2 289.7 173.6 290 170C290.3 166.4 297.8 158.7 300 150C302.2 141.3 300.9 123.7 303 118C305.1 112.3 311 116.8 312.6 115.6Z" fill="#ff9200"/>
<path d="M312.6 115.6C314.1 115.1 312.8 115.8 313.2 114.8C313.7 113.7 314.6 111.4 315.5 109.5C316.4 107.6 317.5 105.4 318.5 103.5C319.5 101.6 320.2 99.7 321.5 98.2C322.8 96.8 324.6 95.7 326 94.8C327.4 94 328.8 93.7 330.2 93.3C331.6 92.9 333 92.4 334.4 92.2C335.8 92 337.4 92.6 338.6 92.2C339.8 91.8 340.5 90.4 341.8 89.6C343 88.8 344.4 88 345.9 87.5C347.5 87 349.3 86.6 351.2 86.5C353.1 86.3 355.8 86.4 357.5 86.5C359.2 86.5 360.5 86.7 361.7 87C362.9 87.3 364.2 87.6 364.9 88.5C365.5 89.5 365.5 91.2 365.4 92.8C365.3 94.3 364.4 96.4 364.3 98C364.2 99.6 364.5 100.8 364.9 102.2C365.2 103.6 365.9 105 366.4 106.4C366.9 107.8 368.1 108.9 368 110.6C367.9 112.2 365.9 114.5 365.9 116.3C365.9 118.1 367.3 119.8 368 121.5C368.7 123.3 369.4 124.7 370.1 126.8C370.8 128.9 371.8 131.7 372.2 134.2C372.6 136.6 372.9 139.4 372.7 141.5C372.5 143.6 371.6 145 371.1 146.8C370.7 148.5 370.2 150.2 370.1 152C370 153.8 370.4 155.5 370.6 157.2C370.8 159 370.7 160.9 371.1 162.5C371.6 164.1 372.2 165.5 373.2 166.7C374.3 167.9 376.2 168.8 377.4 169.8C378.7 170.9 379.6 171.9 380.6 173C381.6 174.1 382.7 175.1 383.2 176.6C383.7 178 383.6 180.1 383.7 181.8C383.8 183.5 383.5 184.9 383.5 187C383.5 189.1 383.8 192.3 383.7 194.4C383.6 196.5 384.6 199.2 382.6 199.7C380.7 200.1 375.8 198.1 372 197C368.2 195.9 364.5 194.2 360 193C355.5 191.8 348.9 190.9 345 190C341.1 189.1 338 189 336.5 187.6C335 186.2 336.5 183.8 336 181.8C335.5 179.8 334.3 177.4 333.4 175.5C332.4 173.6 331.4 172.3 330.2 170.2C329 168.2 327.2 164.8 326 163.2C324.8 161.7 324 161.2 323 161C322 160.8 321 161.5 320 161.8C319 162 318 162.5 317 162.5C316 162.5 315.2 162.1 314 161.8C312.8 161.4 311.1 160.8 309.5 160.6C307.9 160.3 306.7 160.3 304.2 160.2C301.8 160.2 295.4 161.7 295 160C294.6 158.3 300.5 157 302 150C303.5 143 302.2 123.7 304 118C305.8 112.3 311.1 116.1 312.6 115.6Z" fill="#ffbc00"/>
<path d="M312.6 115.6C314.8 115.6 312.8 116.1 313.2 115.8C313.7 115.5 314.5 115 315.5 114C316.5 113 318 111 319.2 109.5C320.5 108 321.9 106.2 323 105C324.1 103.8 325 102.8 326 102.2C327 101.6 328.1 101.2 329.1 101.2C330.2 101.2 331.1 101.5 332.3 102.2C333.5 102.9 334.9 104.6 336.5 105.3C338.1 106 340.4 106.6 341.8 106.4C343.1 106.2 343.8 105.2 344.9 104.3C345.9 103.4 346.8 102.4 348.1 101.2C349.3 99.9 350.9 98.2 352.2 97C353.6 95.7 355.4 94.2 356.4 93.8C357.5 93.4 358 93.6 358.6 94.3C359.1 95 359.3 96.5 359.6 98C359.9 99.5 359.9 101.5 360.1 103.2C360.3 105 360.9 107.4 360.6 108.5C360.4 109.6 359 108.9 358.6 110C358.1 111.1 357.9 113.5 358 115.2C358.1 117 358.6 118.8 359.1 120.5C359.6 122.2 360.5 124 361.2 125.8C361.9 127.5 362.8 129.2 363.3 131C363.8 132.8 364 134.5 364.3 136.2C364.6 138 364.7 139.8 364.9 141.5C365 143.2 365.5 145 365.4 146.8C365.3 148.5 364.6 150.4 364.3 152C364 153.6 363.3 154.6 363.3 156.2C363.3 157.8 364 159.7 364.3 161.4C364.6 163.2 365.1 165.4 365.4 166.7C365.7 168 365.3 168.1 365.9 169.2C366.5 170.3 367.8 172.2 369.1 173.4C370.3 174.6 372 175.5 373.2 176.6C374.5 177.6 375.6 178.6 376.4 179.7C377.2 180.8 377.6 182.4 378 183.4C378.4 184.4 379.6 184.3 378.5 185.5C377.4 186.7 374.7 190.2 371.7 190.5C368.7 190.8 363.2 188.3 360.6 187.6C358.1 186.8 357.8 186.8 356.4 186C355.1 185.2 353.6 184.1 352.2 182.8C350.9 181.6 349.7 180.2 348.6 178.7C347.5 177.1 346.5 175.2 345.4 173.4C344.3 171.6 343.2 169.4 341.8 167.8C340.3 166.1 338.2 165 336.5 163.6C334.8 162.2 332.6 160.8 331.2 159.3C329.9 157.9 329 156.7 328.6 155.2C328.2 153.6 329.6 151.7 329.1 149.9C328.7 148.2 326.9 146.5 326 144.7C325.1 142.8 324.4 140.8 323.5 139C322.6 137.2 321.6 135.8 320.5 134C319.4 132.2 320.4 129.5 317 128C313.6 126.5 302.8 127 300 125C297.2 123 297.9 117.6 300 116C302.1 114.4 310.4 115.6 312.6 115.6Z" fill="#ffe200"/>
<path d="M336 126.3C336.8 125.3 339.2 124.7 340.7 124.2C342.2 123.7 343.5 123.1 344.9 123.1C346.3 123.1 347.7 123.4 349.1 124.2C350.5 125 352.2 126.5 353.3 127.8C354.4 129.2 355.4 130.4 355.9 132C356.4 133.6 356.6 135.5 356.4 137.3C356.3 139.1 355.6 140.8 354.9 142.6C354.2 144.3 353 146.2 352.2 147.8C351.5 149.4 350.6 150.6 350.1 152C349.7 153.4 349.3 154.8 349.6 156.2C349.9 157.6 351 158.8 351.7 160.4C352.4 162 353.3 164.1 353.8 165.7C354.3 167.2 354.8 168.7 354.9 169.8C355 171 355.2 172.4 354.6 172.5C354 172.6 352.5 171.4 351.2 170.4C349.9 169.4 348.6 168.1 347 166.7C345.4 165.3 343.5 163.6 341.8 162C340 160.4 337.9 158.6 336.5 157.2C335.1 155.9 334 155.2 333.4 154.1C332.7 153 332.5 152 332.8 150.9C333.1 149.9 334.8 148.9 335.4 147.8C336.1 146.8 336.6 146.1 337 144.7C337.4 143.2 337.6 141.2 337.6 139.4C337.5 137.7 336.8 135.7 336.5 134.2C336.2 132.6 336.1 131.3 336 130C335.9 128.7 335.2 127.3 336 126.3Z" fill="#ddff22"/>
<path d="M308 144C307.8 145.1 308.8 146.6 309.5 148C310.2 149.4 311 151.2 312 152.5C313 153.8 314.2 155.2 315.5 156C316.8 156.8 318.4 157.4 319.5 157C320.6 156.6 321.3 155 321.8 153.5C322.3 152 322.4 149.7 322.3 148C322.2 146.3 321.7 144.7 321 143.5C320.3 142.3 319.2 141.5 318 141C316.8 140.5 315.2 140.4 314 140.5C312.8 140.6 311.5 140.9 310.5 141.5C309.5 142.1 308.2 142.9 308 144Z" fill="#ff6800"/>
<path d="M303.5 159.5C305.6 158.4 307.6 160.9 309 161.5C310.4 162.1 310.8 162.7 312 163C313.2 163.3 315 163.2 316 163.5C317 163.8 318.3 164.3 318 165C317.7 165.7 315.5 166.9 314 167.5C312.5 168.1 310.7 168.2 309 168.5C307.3 168.8 305.8 169.2 304 169.5C302.2 169.8 299.8 170.8 298.5 170.5C297.2 170.2 295.7 169.8 296.5 168C297.3 166.2 301.4 160.6 303.5 159.5Z" fill="#ffc900"/>
<path d="M288 196C288.7 194.9 288.7 193.7 290 193.5C291.3 193.3 294 195.1 296 195C298 194.9 299.7 193.5 302 193C304.3 192.5 307.7 192 310 192C312.3 192 314.5 192.2 316 193C317.5 193.8 318.3 195.5 319 197C319.7 198.5 320.2 200 320 202C319.8 204 318.8 206.8 318 209C317.2 211.2 316.2 213.2 315 215C313.8 216.8 312.3 218.4 311 220C309.7 221.6 308.5 222.7 307 224.5C305.5 226.3 303.7 228.8 302 231C300.3 233.2 298.5 235.8 297 238C295.5 240.2 294.3 242.5 293 244.5C291.7 246.5 290.6 248.4 289 250C287.4 251.6 284.9 254 283.5 254C282.1 254 282 251.4 280.5 250.2C279 249.1 276.8 247.9 274.5 247.2C272.2 246.6 269.8 246.5 267 246.5C264.2 246.5 261 247.2 258 247.2C255 247.2 251.8 247 249 246.5C246.2 246 244 244.9 241.5 244.2C239 243.6 236.8 242.9 234 242.8C231.2 242.6 228 243.5 225 243.5C222 243.5 218.8 243.2 216 242.8C213.2 242.2 210.8 241.2 208.5 240.5C206.2 239.8 203.9 239.2 202.5 238.2C201.1 237.3 198.1 237 200 235C201.9 233 205.7 228.7 214 226C222.3 223.3 240.7 220.7 250 219C259.3 217.3 264.3 217.5 270 216C275.7 214.5 281.3 212.7 284 210C286.7 207.3 285.3 202.3 286 200C286.7 197.7 287.3 197.1 288 196Z" fill="#ff5700"/>
<path d="M286.6 202C287.9 200.3 290 200.8 291.6 200C293.2 199.2 294.4 198.2 296.1 197.5C297.9 196.8 299.9 196 302.1 195.5C304.3 195 307.1 194.4 309.1 194.5C311.1 194.6 312.8 194.9 314.1 196C315.4 197.1 316.8 199 317.1 201C317.4 203 316.8 205.9 316.1 208.1C315.4 210.3 314.3 212.1 313.1 214.1C311.9 216.1 310.4 218.2 309.1 219.9C307.9 221.6 306.9 222.5 305.6 224.3C304.3 226.1 302.7 228.2 301.1 230.6C299.5 233 298 235.2 296.1 238.6C294.2 242 291.4 249.6 289.5 251C287.6 252.4 286.8 248.2 285 247.2C283.2 246.2 281 245.6 279 245C277 244.4 275.2 243.9 273 243.5C270.8 243.1 268 242.8 265.5 242.8C263 242.8 260.5 243.6 258 243.5C255.5 243.4 253 242.6 250.5 242C248 241.4 245.2 240.5 243 239.8C240.8 239 239.2 238.1 237 237.5C234.8 236.9 232 236.6 229.5 236C227 235.4 224.2 234.8 222 233.8C219.8 232.8 217.3 231.1 216 230C214.7 228.9 208.3 228.8 214 227C219.7 225.2 240.7 220.8 250 219C259.3 217.2 264.3 217.5 270 216C275.7 214.5 281.2 212.3 284 210C286.8 207.7 285.3 203.7 286.6 202Z" fill="#ff7d00"/>
<path d="M286.6 204C287.8 202.8 289.7 203.2 291.1 202.5C292.5 201.8 293.4 200.8 295.1 200C296.8 199.2 298.9 198.4 301.1 198C303.3 197.6 306.3 197.2 308.1 197.5C309.9 197.8 311.3 198.8 312.1 200C312.9 201.2 313.3 203 313.1 205C312.9 207 311.9 209.9 311.1 212.1C310.3 214.3 309.2 216.1 308.1 218.1C307 220.1 305.9 221.9 304.6 223.9C303.3 225.9 301.6 227.9 300.1 230.1C298.6 232.3 297.1 234.1 295.6 237.1C294.1 240.1 292.3 246.6 291 248C289.7 249.4 289.5 246.6 288 245.8C286.5 244.9 284 243.6 282 242.8C280 241.9 277.8 241.1 276 240.5C274.2 239.9 273.2 239.1 271.5 239C269.8 238.9 267.5 239.6 265.5 239.8C263.5 239.9 261.5 239.9 259.5 239.8C257.5 239.6 255.5 239.5 253.5 239C251.5 238.5 249.5 237.8 247.5 236.8C245.5 235.8 243.5 234.4 241.5 233C239.5 231.6 237.1 229.8 235.5 228.5C233.9 227.2 229.6 226.6 232 225C234.4 223.4 243.7 220.5 250 219C256.3 217.5 264.3 217.5 270 216C275.7 214.5 281.2 212 284 210C286.8 208 285.4 205.2 286.6 204Z" fill="#ff9f00"/>
<path d="M286.6 205.6C287.8 204.7 289.7 205 291.1 204.5C292.5 204 293.6 203.1 295.1 202.5C296.6 201.9 298.3 201.2 300.1 201C301.9 200.8 304.6 200.8 306.1 201.5C307.6 202.2 308.7 203.4 309.1 205C309.5 206.6 309 208.9 308.6 211.1C308.2 213.3 307.5 215.8 306.6 218.1C305.7 220.3 304.4 222.5 303.1 224.6C301.8 226.7 300 228.7 298.6 230.6C297.2 232.5 295.9 233.9 294.6 236.1C293.3 238.2 292.6 242.9 291 243.5C289.4 244.1 287 240.8 285 239.8C283 238.8 281 238.2 279 237.5C277 236.8 274.8 235.9 273 235.2C271.2 234.6 270.3 233.9 268.5 233.8C266.7 233.6 264.4 234.1 262.4 234.5C260.4 234.9 258.5 235.9 256.5 236C254.5 236.1 252.2 236 250.5 235.2C248.8 234.5 247.2 232.8 246 231.5C244.8 230.2 242.3 229.8 243 227.8C243.7 225.7 245.5 221 250 219C254.5 217 264.3 217.5 270 216C275.7 214.5 281.2 211.7 284 210C286.8 208.3 285.4 206.5 286.6 205.6Z" fill="#ffc500"/>
<path d="M286.6 207.6C287.9 206.8 290.2 207.5 291.6 207.1C293 206.7 293.8 205.5 295.1 205C296.4 204.5 298 204 299.6 204C301.2 204 303.4 204.2 304.6 205C305.8 205.8 306.4 207.6 306.6 209.1C306.9 210.6 306.4 212.3 306.1 214.1C305.8 215.9 305.4 218.1 304.6 220.1C303.8 222.1 302.4 224.2 301.1 226.1C299.9 228 298.4 229.5 297.1 231.3C295.8 233.1 293.9 235.4 293.1 236.7C292.3 238 293.4 238.9 292.5 239C291.6 239.1 289.8 238 288 237.5C286.2 237 284 236.8 282 236C280 235.2 277.5 234 276 233C274.5 232 273.8 230.8 273 230C272.2 229.2 272.2 228.5 271.5 228.5C270.8 228.5 268.8 231.1 268.5 230C268.2 228.9 267.4 225 270 222C272.6 219 281.2 214.4 284 212C286.8 209.6 285.3 208.4 286.6 207.6Z" fill="#ffea00"/>
<path d="M286.6 209.6C287.7 208.7 290.5 210 292.1 209.6C293.7 209.2 294.8 207.7 296.1 207.1C297.4 206.5 298.9 206 300.1 206.1C301.4 206.2 302.8 206.8 303.6 207.6C304.4 208.4 304.9 209.7 305.1 211.1C305.3 212.5 304.9 214.4 304.6 216.1C304.3 217.8 303.9 219.3 303.1 221.1C302.4 222.8 301.3 224.8 300.1 226.6C298.9 228.3 297.4 230 296.1 231.6C294.8 233.2 293.6 235 292.3 235.9C291 236.8 289.8 236.8 288.1 236.8C286.4 236.8 283.9 236.4 282 235.8C280.1 235.2 277.8 234.2 276.5 233.3C275.2 232.4 274.6 231 274.2 230.1C273.8 229.2 273.5 229.1 273.8 228.1C274.1 227.1 275 225.4 276 224.1C277 222.8 278.8 221.2 280 220.1C281.2 219 282.1 218.4 283 217.6C283.9 216.8 285 216.4 285.6 215.1C286.2 213.8 285.5 210.5 286.6 209.6Z" fill="#f2ff0d"/>
<path d="M278 228C278.2 226.9 279.1 225 280 224C280.9 223 282.2 222.4 283.5 222C284.8 221.6 286.7 221.8 288 221.5C289.3 221.2 291 221.2 291.5 220.5C292 219.8 291.4 218.2 291 217.5C290.6 216.8 289.1 216.6 289 216C288.9 215.4 289.7 214.4 290.5 214C291.3 213.6 293 213.3 294 213.5C295 213.7 296 214.2 296.5 215C297 215.8 297.2 217.4 297 218.5C296.8 219.6 296 220.6 295.5 221.5C295 222.4 294.2 223 294 224C293.8 225 294.7 226.3 294.5 227.5C294.3 228.7 293.8 230 293 231C292.2 232 291.2 232.9 290 233.5C288.8 234.1 287.3 234.6 286 234.5C284.7 234.4 283.2 233.7 282 233C280.8 232.3 279.7 231.3 279 230.5C278.3 229.7 277.8 229.1 278 228Z" fill="#c8ff37"/>
<path d="M309 220C310.5 218.5 312.3 218.4 314 218C315.7 217.6 317.3 217.2 319 217.5C320.7 217.8 322.3 218.9 324 220C325.7 221.1 327.5 222.7 329 224C330.5 225.3 332.1 226.7 333 228C333.9 229.3 334.7 230.8 334.5 232C334.3 233.2 333.4 234.2 332 235C330.6 235.8 328 236.6 326 237C324 237.4 322 237.5 320 237.5C318 237.5 315.7 236.9 314 237C312.3 237.1 311.3 238 310 238C308.7 238 307.2 237.8 306 237C304.8 236.2 303.2 234.7 303 233C302.8 231.3 304 229.2 305 227C306 224.8 307.5 221.5 309 220Z" fill="#ff2d00"/>
<path d="M320.5 188C320 189.3 320.6 191.8 321 194C321.4 196.2 322.2 198.9 323 201C323.8 203.1 325 205.8 326 206.5C327 207.2 328.3 206.2 329 205C329.7 203.8 330.1 201 330 199C329.9 197 329 194.8 328.5 193C328 191.2 327.8 189.2 327 188C326.2 186.8 325.1 186 324 186C322.9 186 321 186.7 320.5 188Z" fill="#ff3100"/>
<path d="M291 182C292 181.2 294.3 180.8 296 181C297.7 181.2 299.7 182 301 183C302.3 184 303.8 185.8 304 187C304.2 188.2 303.2 189.8 302 190.5C300.8 191.2 298.7 191.2 297 191C295.3 190.8 293.2 190.3 292 189.5C290.8 188.7 290.2 187.2 290 186C289.8 184.8 290 182.8 291 182Z" fill="#ff3100"/>
<path d="M287 266C286.8 264.3 292.8 262.5 296 262C299.2 261.5 303 262.2 306 263C309 263.8 312.3 265.3 314 267C315.7 268.7 316.5 271.3 316 273C315.5 274.7 313 276.5 311 277C309 277.5 306.3 276.8 304 276C301.7 275.2 299.8 273.7 297 272C294.2 270.3 287.2 267.7 287 266Z" fill="#ff4f00"/>
</g>
<g filter="url(#bl2)">
<path d="M306 116C307.3 110.2 311.3 115.4 314 115C316.7 114.6 319.7 113.5 322 113.5C324.3 113.5 326.5 113.9 328 115C329.5 116.1 330.3 118.2 331 120C331.7 121.8 332.2 124 332 126C331.8 128 331 130.2 330 132C329 133.8 327.7 135.3 326 137C324.3 138.7 322.2 140.3 320 142C317.8 143.7 315.3 145.7 313 147C310.7 148.3 307.2 155.2 306 150C304.8 144.8 304.7 121.8 306 116Z" fill="#faff05"/>
<path d="M306 117C307.2 111.8 310.7 116.7 313 116.5C315.3 116.3 317.9 115.7 320 116C322.1 116.3 324.2 117.4 325.5 118.5C326.8 119.6 327.3 121.1 327.5 122.5C327.7 123.9 327.4 125.4 326.5 127C325.6 128.6 323.8 130.2 322 132C320.2 133.8 318 135.8 316 138C314 140.2 311.7 143.3 310 145C308.3 146.7 306.7 152.7 306 148C305.3 143.3 304.8 122.2 306 117Z" fill="#d9ff26"/>
<path d="M308 144C307.8 145.1 308.8 146.6 309.5 148C310.2 149.4 311 151.2 312 152.5C313 153.8 314.2 155.2 315.5 156C316.8 156.8 318.4 157.4 319.5 157C320.6 156.6 321.3 155 321.8 153.5C322.3 152 322.4 149.7 322.3 148C322.2 146.3 321.7 144.7 321 143.5C320.3 142.3 319.2 141.5 318 141C316.8 140.5 315.2 140.4 314 140.5C312.8 140.6 311.5 140.9 310.5 141.5C309.5 142.1 308.2 142.9 308 144Z" fill="#ff6c00"/>
<path d="M302 160.5C303.6 159.9 305.7 162 307 162.5C308.3 163 309.4 163 310 163.5C310.6 164 311 164.9 310.5 165.5C310 166.1 308.4 166.6 307 167C305.6 167.4 303.5 167.8 302 168C300.5 168.2 298.8 168.8 298 168.5C297.2 168.2 296.8 167.3 297.5 166C298.2 164.7 300.4 161.1 302 160.5Z" fill="#ffe200"/>
<path d="M298 162C298.9 161.6 301.7 162.1 303 162.5C304.3 162.9 305.8 163.8 306 164.5C306.2 165.2 305.1 166.1 304 166.5C302.9 166.9 300.6 167.2 299.5 167C298.4 166.8 297.8 165.8 297.5 165C297.2 164.2 297.1 162.4 298 162Z" fill="#e1ff1e"/>
<path d="M306 116.8C308.8 117 313.6 117.4 316.8 118C320 118.6 323.2 119.8 325 120.6C326.8 121.4 327.2 122.2 327.5 123.1C327.8 124 328.3 123.8 326.5 126C324.7 128.2 320.6 132.2 316.9 136C313.1 139.8 306.8 146.8 304 149C301.2 151.2 300.7 154.4 300 149C299.3 143.6 299 122.2 300 116.8C301 111.4 303.2 116.6 306 116.8Z" fill="#d5ff2a"/>
<path d="M306 117.8C308.6 118 312.8 118.3 315.6 118.9C318.4 119.5 321.2 120.4 322.8 121.2C324.4 122 325 122.8 325.2 123.7C325.4 124.6 325.8 124.6 324.2 126.6C322.6 128.6 319.1 132.1 315.7 135.6C312.3 139.1 306.6 145.4 304 147.3C301.4 149.2 300.7 152.2 300 147.3C299.3 142.4 299 122.7 300 117.8C301 112.9 303.4 117.6 306 117.8Z" fill="#bbff44"/>
<path d="M306 118.8C308.4 119 312.1 119.3 314.5 119.8C316.9 120.3 319.1 121 320.5 121.8C321.9 122.5 322.8 123.4 323 124.3C323.2 125.2 323.4 125.4 322 127.2C320.6 129 317.4 132 314.4 135.1C311.4 138.2 306.4 143.8 304 145.6C301.6 147.3 300.7 150.1 300 145.6C299.3 141.1 299 123.3 300 118.8C301 114.3 303.6 118.6 306 118.8Z" fill="#a2ff5d"/>
<path d="M306 119.8C308.2 120 311.4 120.2 313.4 120.7C315.4 121.2 317 121.8 318.2 122.5C319.4 123.2 320.5 124.1 320.8 125C321.1 125.9 321.1 126.3 319.8 127.9C318.5 129.5 315.8 132 313.2 134.7C310.6 137.4 306.2 142.4 304 143.9C301.8 145.4 300.7 147.9 300 143.9C299.3 139.9 299 123.8 300 119.8C301 115.8 303.8 119.6 306 119.8Z" fill="#89ff76"/>
<path d="M306 120.8C308 121 310.5 121.3 312.2 121.7C313.9 122.1 314.9 122.4 316 123.1C317.1 123.8 318.2 124.7 318.5 125.6C318.8 126.5 318.6 127 317.5 128.5C316.4 129.9 314.2 132 312 134.3C309.8 136.6 306 140.9 304 142.2C302 143.5 300.7 145.8 300 142.2C299.3 138.6 299 124.4 300 120.8C301 117.2 304 120.6 306 120.8Z" fill="#70ff8f"/>
<path d="M306 121.8C307.9 121.9 309.8 122.3 311.1 122.6C312.4 122.9 313 123.1 313.8 123.7C314.6 124.3 316 125.3 316.2 126.2C316.4 127.1 316.1 127.8 315.2 129.1C314.3 130.4 312.6 132 310.7 133.9C308.8 135.8 305.8 139.4 304 140.5C302.2 141.6 300.7 143.6 300 140.5C299.3 137.4 299 124.9 300 121.8C301 118.7 304.1 121.7 306 121.8Z" fill="#56ffa9"/>
<path d="M306 122.8C307.7 122.9 309.1 123.2 310 123.5C310.9 123.8 310.8 123.8 311.5 124.3C312.2 124.8 313.8 125.9 314 126.8C314.2 127.7 313.8 128.6 313 129.7C312.2 130.8 311 131.9 309.5 133.4C308 134.9 305.6 137.9 304 138.8C302.4 139.7 300.7 141.5 300 138.8C299.3 136.1 299 125.5 300 122.8C301 120.1 304.3 122.7 306 122.8Z" fill="#41ffbe"/>
<path d="M306 123.8C307.5 123.9 308.4 124.2 308.9 124.4C309.4 124.6 308.7 124.4 309.2 124.9C309.7 125.4 311.5 126.5 311.8 127.4C312.1 128.3 311.4 129.4 310.8 130.3C310.2 131.2 309.4 131.9 308.3 133C307.2 134.1 305.4 136.4 304 137.1C302.6 137.8 300.7 139.3 300 137.1C299.3 134.9 299 126 300 123.8C301 121.6 304.5 123.7 306 123.8Z" fill="#2cffd3"/>
<path d="M306 124.8C307.3 124.9 307.6 125.3 307.8 125.4C308 125.5 306.7 125.1 307 125.6C307.3 126 309.2 127.2 309.5 128.1C309.8 129 308.9 130.2 308.5 131C308.1 131.8 307.8 131.9 307 132.6C306.2 133.3 305.2 134.9 304 135.4C302.8 135.9 300.7 137.2 300 135.4C299.3 133.6 299 126.6 300 124.8C301 123 304.7 124.7 306 124.8Z" fill="#17ffe8"/>
</g>
<path d="M110 40L355 40L355 58.8L351.2 58.8L351.2 62.5L343.1 62.5L343.1 66.9L336.2 66.9L336.2 70.6L333.1 70.6L333.1 73.8L326.2 73.8L326.2 80L319.4 80L319.4 84.4L312.5 84.4L312.5 88.1L305 88.1L305 93.1L297.5 93.1L297.5 97.5L294.4 97.5L294.4 101.2L287.5 101.2L287.5 105.2L312.5 105.2L312.5 117.5L308.8 117.5L308.8 122.5L305 122.5L305 147.5L308 147.5L308 155.6L301 155.6L301 159L297.5 159L297.5 163L294.5 163L294.5 168L291.5 168L291.5 176L289.5 176L289.5 186L288 186L288 217L284 217L284 221L272 221L272 224L240 224L240 226L216 226L216 230L210 230L210 234L204 234L204 237.4L200 237.4L200 241L197 241L197 245L194 245L194 250L191 250L191 254L188 254L188 258L185 258L185 262L182 262L182 267L179 267L179 271L177 271L177 275L174 275L174 279L171 279L171 283L168 283L168 287L165 287L165 291L161 291L161 295L157 295L157 299L155.9 299L155.9 303.6L149 303.6L149 309.4L145.2 309.4L145.2 326L153 326L153 333.7L145.2 333.7L145.2 338.5L153 338.5L153 356L149 356L149 367.7L145.2 367.7L145.2 375.4L142.3 375.4L142.3 393.6L138.4 393.6L138.4 432.3L141.3 432.3L141.3 449L138.4 449L138.4 452L135.5 452L135.5 454.9L133.3 454.9L133.3 457.8L131.1 457.8L131.1 460.7L128.2 460.7L128.2 465.8L124.6 465.8L124.6 468L110 468Z" fill="#fff"/>
<rect x="287.2" y="106.3" width="6.6" height="2.6" fill="#f00000"/>
<g clip-path="url(#sea)"><g fill="none" stroke="#000" stroke-width="1.15" stroke-linejoin="round" stroke-linecap="round">
<path d="M137 452.7C137.5 452.9 138.7 454.1 139.9 454.1C141.1 454.1 142.8 453.7 144.2 452.7C145.6 451.7 147.4 450 148.6 448.3C149.8 446.6 150.7 444.7 151.5 442.5C152.3 440.3 153 437.6 153.7 435.2C154.4 432.8 155.2 430.6 155.6 427.9C156 425.2 156.1 421.9 155.9 419.2C155.7 416.5 154.6 414.9 154.4 411.9C154.2 408.9 155.2 403.6 155 401C154.8 398.4 153.2 398.4 153 396.6C152.8 394.8 153.3 393.1 154 390C154.7 386.9 156 381.7 157 378C158 374.3 158.8 371.3 160 368C161.2 364.7 162.3 361.3 164 358C165.7 354.7 167.7 351.2 170 348C172.3 344.8 175.7 341.3 178 339C180.3 336.7 182.7 334.7 184 334C185.3 333.3 185.9 334.3 185.6 335C185.3 335.7 183.4 336.7 182 338C180.6 339.3 178.5 341.2 177 343C175.5 344.8 173.3 347.2 173 349C172.7 350.8 173.5 352.5 175 354C176.5 355.5 179.2 357.1 182 358C184.8 358.9 189 359.8 192 359.6C195 359.4 197.8 358.3 200 357C202.2 355.7 203 354.8 205 352C207 349.2 209.8 342.7 212 340C214.2 337.3 215.7 336.5 218 336C220.3 335.5 223.3 336.7 226 337C228.7 337.3 231.3 338.3 234 338C236.7 337.7 239.7 336.7 242 335C244.3 333.3 245.7 330.8 248 328C250.3 325.2 253.7 321.7 256 318C258.3 314.3 260 309.7 262 306C264 302.3 266.3 298.3 268 296C269.7 293.7 271.3 292.7 272 292"/>
<path d="M280.5 296.2C280.9 297.3 281.8 300.6 283.1 302.4C284.4 304.1 286.2 305.7 288.4 306.8C290.6 307.8 293.8 308.4 296.2 308.5C298.7 308.6 301.5 307 303.2 307.6C305 308.2 305.6 310.1 306.8 312C307.9 313.9 309.1 316.7 310.2 319C311.4 321.3 312.8 323.8 313.8 326C314.7 328.2 315.3 330.2 316 332C316.7 333.8 316.9 335.1 318 336.5C319.1 337.9 320.8 339.3 322.5 340.5C324.2 341.7 327.2 344.2 328.5 343.8C329.8 343.3 330.1 341 330.3 338C330.5 335 329.2 329.2 329.5 326C329.8 322.8 330.8 321.6 332.1 319C333.4 316.4 335.8 313.2 337.4 310.2C339 307.3 340.4 304.7 341.8 301.5C343.1 298.3 344.4 294.5 345.2 291C346.1 287.5 346.6 284 347 280.5C347.4 277 347.5 272.8 347.9 270C348.3 267.2 348.6 265.1 349.6 263.9C350.6 262.7 352.1 262.4 354 263C355.9 263.6 359.2 265.8 361 267.4C362.8 269 363 271.4 364.5 272.6C366 273.8 369.1 274.2 370 274.5"/>
<path d="M386.8 274.5C389.1 274.3 395.9 274 400.4 273.4C404.9 272.8 409.5 271.9 414 271C418.5 270.1 424.9 269 427.5 267.7C430.1 266.4 429.6 265.8 429.8 263.2C430 260.6 428.9 255.3 428.7 251.9C428.5 248.5 428.1 245.1 428.7 242.8C429.2 240.5 429.9 238.9 432 238.3C434.1 237.7 437.6 239.8 441 239.4C444.4 239 448.6 237.7 452.4 236C456.2 234.3 460.4 231.9 463.8 229.2C467.2 226.5 470.5 223 472.8 220C475.1 217 476.3 214 477.4 211C478.5 208 479.1 205 479.6 202C480.2 199 480 195.6 480.7 193C481.4 190.4 482.3 187.7 484 186.2C485.7 184.7 488.3 183.7 491 184C493.7 184.3 497.2 186 500 188C502.8 190 505 194.3 508 196C511 197.7 514.7 198.2 518 198C521.3 197.8 524.8 195.5 528 195C531.2 194.5 535.2 194.2 537 195C538.8 195.8 539.2 198.2 539 200C538.8 201.8 536.5 204.2 536 206C535.5 207.8 533.8 210.2 536 211C538.2 211.8 544.3 212 549 211C553.7 210 558.8 206.7 564 205C569.2 203.3 575.3 202.5 580 201C584.7 199.5 589.4 198.2 592 196C594.6 193.8 595.6 190.7 595.6 188C595.6 185.3 593.9 182.2 592 180C590.1 177.8 587.7 176.1 584 175C580.3 173.9 574.7 173.8 570 173.6C565.3 173.4 560 174.4 556 174C552 173.6 549 172.7 546 171C543 169.3 540.7 166.5 538 164C535.3 161.5 532 158.8 530 156C528 153.2 526 150.2 526 147C526 143.8 528.6 140.7 530 137C531.4 133.3 533.9 128.3 534.5 125C535.1 121.7 534.7 119.9 533.5 117C532.3 114.1 528.9 111.2 527.5 107.5C526.1 103.8 525.6 99 525 95C524.4 91 525 86.5 523.8 83.8C522.5 81 520 80.2 517.5 78.8C515 77.3 509.2 76 508.8 75C508.3 74 512.6 73.6 515 73C517.4 72.4 517.8 71.5 523 71.2C528.2 71 540.9 70.4 546.2 71.2C551.6 72.1 551.9 74.4 555 76.2C558.1 78.1 561.2 80.5 565 82.5C568.8 84.5 573.3 86.7 577.5 88C581.7 89.3 585.8 90.2 590 90.5C594.2 90.8 599.2 90.9 602.5 90C605.8 89.1 608.5 86.9 610 85C611.5 83.1 611.7 80.4 611.2 78.8C610.8 77.1 609.4 75.1 607.5 75C605.6 74.9 602.9 77.6 600 78C597.1 78.4 593.3 78.4 590 77.5C586.7 76.6 583.1 74.6 580 72.5C576.9 70.4 574.2 67.8 571.2 65C568.3 62.2 564 57.1 562.5 55.5"/>
<path d="M287.5 281.4C288.5 278.5 290.6 278.8 292.8 278.8C294.9 278.7 298.8 279.7 300.6 280.9C302.4 282.1 303.5 283.6 303.6 285.8C303.7 287.9 302.4 291.3 301.2 293.6C300 295.9 298.1 298.1 296.2 299.4C294.4 300.7 291.6 301.7 290 301.2C288.4 300.7 287 299.6 286.6 296.2C286.2 292.9 286.5 284.3 287.5 281.4Z"/>
<path d="M165 339C165.8 337.5 168.3 332.8 170 330C171.7 327.2 174 324.7 175 322C176 319.3 176.8 316.3 176 314C175.2 311.7 170.7 310 170 308C169.3 306 170.3 304.3 172 302C173.7 299.7 177.2 296.7 180 294C182.8 291.3 186.2 287.9 189 286C191.8 284.1 195.5 282.6 197 282.4C198.5 282.2 198.7 283.4 198 285C197.3 286.6 194.5 289.5 193 292C191.5 294.5 189.3 297.3 189 300C188.7 302.7 189.7 305.8 191 308C192.3 310.2 194.7 312.2 197 313C199.3 313.8 202.5 313.7 205 313C207.5 312.3 209.7 310.2 212 309C214.3 307.8 216.8 306.2 219 306C221.2 305.8 223.5 306.7 225 308C226.5 309.3 227 312 228 314C229 316 230.2 318.6 231 320C231.8 321.4 231.9 321.2 233 322.4C234.1 323.6 236 326.8 237.8 327.2C239.6 327.6 242 326.7 244 325C246 323.3 248.3 319.8 250 317C251.7 314.2 252.7 311.5 254 308C255.3 304.5 257.2 299.8 258 296C258.8 292.2 258 287.3 259 285C260 282.7 262.5 282.8 264 282C265.5 281.2 266.7 280.8 268 280C269.3 279.2 270.3 278.2 272 277C273.7 275.8 275.7 273.8 278 273C280.3 272.2 283.2 272.4 286 272C288.8 271.6 291.9 270.1 294.5 270.5C297.1 270.9 299.2 273.2 301.5 274.4C303.8 275.6 306.3 276.4 308.5 277.9C310.7 279.3 312.6 281.8 314.6 283.1C316.6 284.4 318.9 285.6 320.8 285.8C322.6 285.9 324.6 283.7 326 284C327.4 284.3 328.6 285.5 329.2 287.5C329.8 289.5 330.1 293.3 329.9 296.2C329.7 299.2 329 302.4 327.8 305C326.5 307.6 324.3 309.7 322.5 312C320.7 314.3 318 316.7 316.9 319C315.8 321.3 315.6 324.2 315.9 326C316.2 327.8 318.1 329.3 318.5 330"/>
<path d="M320.8 326C320.9 325.1 320.6 322.8 321.6 320.8C322.6 318.7 325 316.4 326.9 313.8C328.8 311.1 331.2 307.9 333 305C334.8 302.1 336.2 299.2 337.4 296.2C338.6 293.3 339.2 290.4 340 287.5C340.8 284.6 341.7 281.7 342.1 278.8C342.5 275.8 343 272.6 342.6 270C342.2 267.4 340.9 265 340 263C339.1 261 337.4 259.2 337.4 257.8C337.4 256.3 338.7 255 340 254.2C341.3 253.5 342.9 253.7 345.2 253.4C347.6 253.1 351.4 253.1 354 252.5C356.6 251.9 358.7 250.8 361 249.9C363.3 249 365.7 248 368 247.2C370.3 246.5 372.7 245.5 375 245.5C377.3 245.5 379.4 246.5 382 247.2C384.6 248 387.8 249.2 390.8 249.9C393.7 250.6 396.6 250.9 399.5 251.6C402.4 252.3 405.8 253.5 408.2 254.2C410.7 255 412.2 257 414.2 256.2C416.2 255.4 419.4 252.2 420.3 249.6C421.2 247 419.3 243.6 419.6 240.6C419.9 237.6 420.4 234.2 421.9 231.5C423.4 228.8 426.2 226.8 428.7 224.7C431.1 222.6 434.7 220.9 436.6 219C438.5 217.1 440 215.1 440 213.4C440 211.7 438.5 210.2 436.6 208.9C434.7 207.6 430.6 207.2 428.7 205.5C426.8 203.8 425.3 201 425.3 198.7C425.3 196.4 426.4 194 428.7 191.9C431 189.8 435.7 187.9 438.9 186.2C442.1 184.5 445.8 184 447.9 181.7C450 179.4 450.5 176 451.3 172.6C452.1 169.2 452.4 164.1 452.9 161.3C453.3 158.5 453.8 158.2 454 156C454.2 153.8 454.8 150 454 148C453.2 146 451.3 144.3 449 144C446.7 143.7 443.2 146 440 146C436.8 146 432 145.3 430 144C428 142.7 428.4 140.5 428 138C427.6 135.5 427.3 131.2 427.6 129C427.9 126.8 427.9 126.3 430 125C432.1 123.7 436.8 122.7 440 121C443.2 119.3 446.7 116.8 449 115C451.3 113.2 453.3 111.5 454 110C454.7 108.5 454.2 106.5 453 106C451.8 105.5 449.5 106.2 447 107C444.5 107.8 440.7 110.3 438 111C435.3 111.7 432.3 111.8 431 111C429.7 110.2 429.2 107.7 430 106C430.8 104.3 434.2 102.5 436 101C437.8 99.5 439.7 98.7 441 97C442.3 95.3 442.1 92.6 443.6 91C445.1 89.4 447.7 87.6 449.8 87.4C451.9 87.2 454.3 88.9 456 90C457.7 91.1 458 92.7 460 94C462 95.3 464.7 96.8 468 98C471.3 99.2 476.7 100.4 480 101C483.3 101.6 485.1 101.4 488 101.5C490.9 101.6 495.7 102.4 497.5 101.8C499.3 101.1 499.8 98.8 498.8 97.5C497.7 96.2 493.1 95.2 491 93.8C488.9 92.3 485.8 90.6 486 88.8C486.2 86.9 490.4 85.2 492.5 82.5C494.6 79.8 496.2 75.8 498.8 72.5C501.2 69.2 504.8 65.4 507.5 62.5C510.2 59.6 513.8 56.2 515 55"/>
<path d="M421 67C421.7 65.8 424 64.5 426 64C428 63.5 431 63.5 433 64C435 64.5 437 65.7 438 67C439 68.3 439.3 70.3 439 72C438.7 73.7 437.5 76 436 77C434.5 78 431.8 78.3 430 78C428.2 77.7 426.3 76.2 425 75C423.7 73.8 422.7 72.3 422 71C421.3 69.7 420.3 68.2 421 67Z"/>
<path d="M407 87.3 L412 87.8"/>
<path d="M466 80 L467.5 80.5"/>
<path d="M186 375C186.2 374.2 187.1 372.9 188 372.5C188.9 372.1 190.8 371.9 191.5 372.5C192.2 373.1 192.3 375.1 192 376C191.7 376.9 190.4 377.8 189.5 378C188.6 378.2 187.1 378 186.5 377.5C185.9 377 185.8 375.8 186 375Z"/>
<path d="M184 290C182.7 291.3 178.6 295.2 176.3 297.8C174 300.4 171.5 303.6 170.4 305.5C169.3 307.4 168.8 308.1 169.5 309.4C170.2 310.7 173.3 311.4 174.3 313.3C175.3 315.2 175.8 318.4 175.3 321C174.8 323.6 173 325.9 171.4 328.8C169.8 331.7 166.6 336.9 165.6 338.5"/>
<path d="M124.6 478.9C125.7 478.2 129 475.9 131.1 474.5C133.2 473.1 135.1 471.9 137 470.2C138.9 468.5 140.9 465.9 142.8 464.3C144.7 462.7 146.7 461.2 148.6 460.7C150.5 460.2 152.4 461 154.4 461.4C156.4 461.8 158.4 463.4 160.3 462.9C162.2 462.4 164.5 460.1 166.1 458.5C167.7 456.9 168.4 453.9 169.7 453.4C171 452.9 173 454.3 174.1 455.6C175.2 456.9 175.7 459.2 176.3 461.4C176.9 463.6 177.8 466.3 177.8 468.7C177.8 471.1 177.1 473.6 176.5 476C175.9 478.4 176.8 481.5 174 483C171.2 484.5 164.6 484.5 160 485C155.4 485.5 148.8 485.6 146.2 486C143.8 486.4 141.9 487.1 145 487.5C148.1 487.9 158.3 488.1 165 488.4C171.7 488.6 181.7 488.9 185 489"/>
<path d="M188.8 483C187.9 481.3 185 476.5 183.8 473C182.5 469.5 182 465.8 181 462C180 458.2 178.8 453.7 178 450C177.2 446.3 176.2 442.8 176 440C175.8 437.2 175.5 435 176.5 433.5C177.5 432 179.8 431.8 182.1 430.8C184.3 429.8 187.3 428.6 190 427.5C192.7 426.4 195.5 425.3 198 424.3C200.5 423.3 201.3 422.6 205 421.2C208.7 419.9 215.8 417.7 220 416.2C224.2 414.8 227.1 414 230 412.5C232.9 411 235 409.6 237.5 407.5C240 405.4 242.5 402.7 245 400C247.5 397.3 250 393.7 252.5 391.2C255 388.8 258.1 386.3 260 385.5C261.9 384.7 263.5 384.7 263.8 386.2C264 387.8 262.1 391.9 261.2 395C260.4 398.1 259 401.7 258.8 405C258.5 408.3 259 411.9 260 415C261 418.1 263.7 421.6 265 423.8C266.3 425.9 267.5 427.3 268 428"/>
<path d="M278.8 428.8C279.4 427.7 281 425.3 282.5 422.5C284 419.7 285.9 414.8 287.5 412C289.1 409.2 290.6 408.3 292 406C293.4 403.7 294.7 400.7 296 398C297.3 395.3 298.3 392.3 300 390C301.7 387.7 304 386 306 384C308 382 309.7 380.3 312 378C314.3 375.7 317 373 320 370C323 367 327.1 363.3 330 360C332.9 356.7 335.2 353.3 337.5 350C339.8 346.7 341.9 343.3 343.8 340C345.6 336.7 347.6 332 348.8 330C349.9 328 349.6 329.9 350.5 327.8C351.4 325.6 352.8 320.5 354 317.2C355.2 314 356.3 311.1 357.5 308.5C358.7 305.9 359.7 302.4 361 301.5C362.3 300.6 363.9 304.4 365.4 303.2C366.9 302.1 368.1 297.1 369.8 294.5C371.4 291.9 373 289.5 375 287.5C377 285.5 380 283.6 382 282.2C384 280.9 384.7 280.2 387 279.6C389.3 279 392.2 278.8 396 278.5C399.8 278.2 406.4 277.9 410 277.7C413.6 277.5 413.8 277.3 417.5 277.5C421.2 277.7 428.3 277.9 432.5 278.8C436.7 279.6 440 280.6 442.5 282.5C445 284.4 446.9 287.5 447.5 290C448.1 292.5 447.2 295.4 446.2 297.5C445.3 299.6 442.7 301.7 442 302.5"/>
<path d="M429.2 307.5C427.7 307.9 423.2 310 420 310C416.8 310 414 308.5 410 307.5C406 306.5 398.5 304.4 396.2 303.8"/>
<path d="M383.2 300C382.3 299.2 378.7 297.3 377.5 295C376.3 292.7 376 288.5 376.2 286.2C376.5 284 376.7 282.5 379 281.5C381.3 280.5 386.5 280.9 390 280.5C393.5 280.1 396.3 279.2 400 279.2C403.7 279.2 408.7 279.4 412 280.5C415.3 281.6 418.2 283.8 420 286C421.8 288.2 422.2 291.3 423 294C423.8 296.7 424 300.2 425 302C426 303.8 428.3 304.5 429 305"/>
<path d="M442 312.5C443.3 313.2 447.3 315.4 450 317C452.7 318.6 455.7 320.2 458 322C460.3 323.8 462.7 327.3 464 328C465.3 328.7 466 328 466 326C466 324 464.7 319.3 464 316C463.3 312.7 462.2 309.5 462 306C461.8 302.5 462 299 463 295C464 291 466 285.8 468 282C470 278.2 472.7 275.4 475 272.3C477.3 269.2 479.2 265.9 481.9 263.2C484.6 260.5 488 257.6 491 256.4C494 255.2 496.8 255 500 256C503.2 257 508.3 261.4 510 262.5"/>
<path d="M524 259C525 258.5 526.5 257.5 530 256C533.5 254.5 540.8 252 545 250C549.2 248 551.2 246.3 555 244C558.8 241.7 563.3 237.9 567.5 236C571.7 234.1 574.6 233.4 580 232.5C585.4 231.6 594.7 231 600 230.5C605.3 230 608.8 229.9 612 229.5C615.2 229.1 619 229.2 619 228.3C619 227.4 613.4 226.2 612 224C610.6 221.8 610.4 219 610.5 215C610.6 211 611.5 204.6 612.5 200C613.5 195.4 615.2 191.2 616.2 187.5C617.3 183.8 617.9 180.6 618.8 177.5C619.6 174.4 619.8 170.4 621.2 168.8C622.7 167.1 625.3 166.9 627.5 167.5C629.7 168.1 633.1 171.7 634.2 172.5"/>
<path d="M647 172.5C648.3 172.3 652.2 172.1 655 171.2C657.8 170.4 661.7 169.2 663.8 167.5C665.8 165.8 667.3 163.3 667.5 161.2C667.7 159.2 666.5 157.5 665 155C663.5 152.5 661.2 149 658.8 146.2C656.2 143.5 653.1 140.8 650 138.8C646.9 136.7 642.9 135.6 640 133.8C637.1 131.9 633.8 129.8 632.5 127.5C631.2 125.2 631.2 122.1 632.5 120C633.8 117.9 637.1 116.7 640 115C642.9 113.3 647.9 111.9 650 110C652.1 108.1 651.2 105.2 652.5 103.8C653.8 102.3 655 101.4 657.5 101.2C660 101.1 664.4 103.4 667.5 103C670.6 102.6 674.6 99.7 676 99"/>
<path d="M630 223.5 L636 223.5"/>
<path d="M645 219.5 L648 219.5"/>
<path d="M676 236C673.3 236.5 666 237.9 660 238.8C654 239.6 645.8 239.8 640 241C634.2 242.2 629.6 243.7 625 246C620.4 248.3 616.2 251.8 612.5 255C608.8 258.2 605.4 262.1 602.5 265C599.6 267.9 597.9 270.7 595 272.5C592.1 274.3 587.9 274.1 585 276C582.1 277.9 579.6 280.8 577.5 284C575.4 287.2 573.8 290.7 572.5 295C571.2 299.3 570.2 305 570 310C569.8 315 570.8 319.6 571 325C571.2 330.4 571.7 337.5 571.5 342.5C571.3 347.5 569.2 351.7 570 355C570.8 358.3 574.2 360.2 576 362.5C577.8 364.8 579.1 367.6 581 369C582.9 370.4 585.2 371.2 587.5 371C589.8 370.8 593.6 369.3 595 367.5C596.4 365.7 596.2 363.8 596 360C595.8 356.2 594.4 351.2 594 345C593.6 338.8 593.6 328.8 593.8 322.5C593.9 316.2 594.2 312.1 595 307.5C595.8 302.9 597.1 298.6 598.8 295C600.4 291.4 602.3 288.7 605 286C607.7 283.3 611.7 281.2 615 279C618.3 276.8 621.7 274.7 625 272.5C628.3 270.3 632.1 267.7 635 266C637.9 264.3 641.2 263.1 642.5 262.5"/>
<path d="M657 262C657.5 263.1 658.2 267.2 660 268.8C661.8 270.2 666.7 269.8 667.5 271C668.3 272.2 667.1 274.3 665 276C662.9 277.7 658.3 279.3 655 281C651.7 282.7 647.9 284.1 645 286C642.1 287.9 639.8 289.8 637.5 292.5C635.2 295.2 632.5 298.8 631 302.5C629.5 306.2 629.3 310.4 628.8 315C628.2 319.6 627.3 325.4 627.5 330C627.7 334.6 628.6 338.3 630 342.5C631.4 346.7 633.9 350.8 636 355C638.1 359.2 640.5 363.3 642.5 367.5C644.5 371.7 645.8 376.4 647.7 380C649.6 383.6 651.8 386.4 653.8 389.2C655.8 392 657.4 395.4 660 397C662.6 398.6 666.5 398.6 669.2 399C671.9 399.4 674.9 399.3 676 399.4"/>
<path d="M544 275C545.8 274.3 546.7 273.3 547 274C547.3 274.7 544.8 277.7 546 279C547.2 280.3 552.5 280.5 554 282C555.5 283.5 555.2 285.7 555 288C554.8 290.3 554 293.8 553 296C552 298.2 551 300.2 549 301C547 301.8 544.5 301 541 300.5C537.5 300 530.7 297.1 528 298C525.3 298.9 526 303.5 525 306C524 308.5 522.8 311.2 522 313C521.2 314.8 521 316.7 520 317C519 317.3 517.2 316.2 516 315C514.8 313.8 513.8 312.2 513 310C512.2 307.8 511 304.7 511 302C511 299.3 511.8 296.3 513 294C514.2 291.7 515.8 290 518 288C520.2 286 523 283.7 526 282C529 280.3 533 279.2 536 278C539 276.8 542.2 275.7 544 275Z"/>
<path d="M424 380C426.1 383 428 386.7 430 390C432 393.3 434 397 436 400C438 403 439.7 405.7 442 408C444.3 410.3 447 412.7 450 414C453 415.3 456.4 415.7 460 416C463.6 416.3 467.6 415.9 471.6 416C475.6 416.1 479.9 416.4 484 416.4C488.1 416.4 492 415.9 496 416C500 416.1 505.2 417 508 417C510.8 417 512 416.7 513 416C514 415.3 514.8 414 514 413C513.2 412 509.3 410.8 508 410C506.7 409.2 506.2 408.7 506.4 408C506.6 407.3 507.9 406.5 509 406C510.1 405.5 510.5 405.2 513 405C515.5 404.8 520.8 405.5 524 405C527.2 404.5 530.2 403.3 532 402C533.8 400.7 535.2 398.3 535 397C534.8 395.7 530.8 395.2 531 394C531.2 392.8 534.7 391.3 536 390C537.3 388.7 538.8 387.7 539 386C539.2 384.3 538 381.8 537 380C536 378.2 534.8 376.7 533 375C531.2 373.3 528.2 371 526 370C523.8 369 521.7 368.7 520 369C518.3 369.3 516 370.5 516 372C516 373.5 518.5 376.3 520 378C521.5 379.7 523.5 380.7 525 382C526.5 383.3 527.7 384.7 529 386C530.3 387.3 533 388.5 533 390C533 391.5 530.8 393.5 529 395C527.2 396.5 524.7 398 522 399C519.3 400 515.7 401.2 513 401C510.3 400.8 508.2 399.2 506 398C503.8 396.8 501.5 395.2 500 394C498.5 392.8 499 392.2 497 391C495 389.8 490.8 388.5 488 387C485.2 385.5 482.7 383.8 480 382C477.3 380.2 474.3 378.2 472 376C469.7 373.8 468.3 371.3 466 369C463.7 366.7 460.7 363.8 458 362C455.3 360.2 453 358.7 450 358C447 357.3 443.7 357.3 440 357.6C436.3 357.9 431.3 358.8 428 360C424.7 361.2 421.7 363 420 365C418.3 367 416.9 369.5 417.6 372C418.3 374.5 421.9 377 424 380Z"/>
<path d="M305 448C305.8 446.7 307.8 442.7 310 440C312.2 437.3 315 434.5 318 432C321 429.5 324.7 427.2 328 425C331.3 422.8 334.3 420.8 338 419C341.7 417.2 345.7 415.5 350 414C354.3 412.5 359 411.3 364 410C369 408.7 374.7 407.3 380 406C385.3 404.7 391.3 403.1 396 402C400.7 400.9 404.3 400 408 399.4C411.7 398.8 415 398 418 398.4C421 398.8 423.7 400.4 426 402C428.3 403.6 430 405.7 432 408C434 410.3 436 413.3 438 416C440 418.7 442 421.2 444 424C446 426.8 448 430 450 433C452 436 454.3 439.2 456 442C457.7 444.8 459.2 447 460 450C460.8 453 460.8 456.7 461 460C461.2 463.3 461.1 466.9 461.5 470C461.9 473.1 462.6 476.5 463.5 478.5C464.4 480.5 465.9 481.2 467 482C468.1 482.8 469.5 483.2 470 483.4"/>
<path d="M493 486C494.8 485.7 499.5 485.1 504 484.4C508.5 483.7 514.7 482.8 520 482C525.3 481.2 531.3 480.3 536 479.6C540.7 478.9 545.3 477.6 548 478C550.7 478.4 551.2 480.2 552 482C552.8 483.8 553.2 486.7 553 489C552.8 491.3 552.2 494.2 551 496C549.8 497.8 548.2 499.1 546 500C543.8 500.9 540.5 501.7 538 501.6C535.5 501.5 533 500.4 531 499.6C529 498.8 527.5 497.1 526 497C524.5 496.9 523.7 498.2 522 499C520.3 499.8 518 501.3 516 502C514 502.7 511.3 502.5 510 503C508.7 503.5 507.8 504.2 508 505C508.2 505.8 509 507.2 511 508C513 508.8 516.5 509.6 520 510C523.5 510.4 528 510.5 532 510.4C536 510.3 540.3 510.2 544 509.6C547.7 509 550.7 507.9 554 507C557.3 506.1 561.5 504.4 564 504C566.5 503.6 568.2 504.4 569 504.5"/>
<path d="M289 459C289.2 460.2 289.3 463.7 290 466C290.7 468.3 291.7 471.3 293 473C294.3 474.7 296.5 475.8 298 476C299.5 476.2 301.2 475.2 302 474C302.8 472.8 301.3 470.7 303 469C304.7 467.3 308.5 465.5 312 464C315.5 462.5 320 460.9 324 460C328 459.1 332.3 459.1 336 458.6C339.7 458.1 343.3 458.1 346 457C348.7 455.9 350.5 453.1 352 452C353.5 450.9 354.3 450.2 355 450.4C355.7 450.6 356.3 451.1 356 453C355.7 454.9 354.2 458.8 353 462C351.8 465.2 350.5 468.7 349 472C347.5 475.3 345.8 478.7 344 482C342.2 485.3 339.7 489 338 492C336.3 495 335.8 496.5 334 500C332.2 503.5 329.3 508.8 327 513C324.7 517.2 322.4 520.9 320 525.5C317.6 530.1 315 535.9 312.5 540.5C310 545.1 307.9 549.2 305 553C302.1 556.8 296.7 561.3 295 563"/>
<path d="M391 563C390.4 561.5 389.8 556.3 387.5 554C385.2 551.7 381.2 550.8 377.5 549C373.8 547.2 368.8 544.3 365 543C361.2 541.7 357.3 541.7 355 541C352.7 540.3 351.7 539.3 351 539"/>
<path d="M340 530C340.2 528 340.2 523 341 518C341.8 513 343.5 505 345 500C346.5 495 348.2 492 350 488C351.8 484 353.7 480 356 476C358.3 472 361 467.7 364 464C367 460.3 370.3 457.3 374 454C377.7 450.7 381.7 446.8 386 444C390.3 441.2 395.7 438.8 400 437C404.3 435.2 408.3 433.9 412 433C415.7 432.1 419 431.6 422 431.6C425 431.6 427.7 431.9 430 433C432.3 434.1 434.7 435.8 436 438C437.3 440.2 438.2 443.3 438 446C437.8 448.7 436.7 451.8 435 454C433.3 456.2 430.5 457.3 428 459C425.5 460.7 422.3 462.2 420 464C417.7 465.8 415.7 467.7 414 470C412.3 472.3 410.5 475.3 410 478C409.5 480.7 410.7 484 411 486C411.3 488 411.8 489.3 412 490"/>
<path d="M406 491C405.3 490.5 403.3 489.8 402 488C400.7 486.2 399 482.7 398 480C397 477.3 396.5 474.3 396 472C395.5 469.7 395.7 467 395 466C394.3 465 393.3 465.3 392 466C390.7 466.7 388.7 468.3 387 470C385.3 471.7 383 473.7 382 476C381 478.3 380.7 481.3 381 484C381.3 486.7 382.8 489.3 384 492C385.2 494.7 385.3 497.5 388 500C390.7 502.5 396.3 505.2 400 506.8C403.7 508.3 406.2 508.2 410 509.2C413.8 510.3 417.5 511.3 422.5 513C427.5 514.7 434.6 517.8 440 519.2C445.4 520.7 450.8 520.5 455 521.8C459.2 523 463.7 524.9 465 526.8C466.3 528.6 464.7 531.1 463 533C461.3 534.9 457 535.9 455 538C453 540.1 451 542.6 451 545.5C451 548.4 453.9 552.6 455 555.5C456.1 558.4 457.1 561.8 457.5 563"/>
<path d="M591.7 503C592.1 502.2 594.8 500.3 593.8 498.5C592.8 496.7 588.5 494.1 586 492.3C583.5 490.5 580.4 489.2 578.5 487.7C576.6 486.1 574.5 484.3 574.5 483C574.5 481.7 576 480.2 578.5 480C581 479.8 585.4 480.7 589.2 481.5C593 482.3 596.9 483.6 601.5 484.6C606.1 485.6 612.4 486.7 617 487.7C621.6 488.7 625.6 489.8 629.2 490.8C632.8 491.8 636.9 492.5 638.5 493.8C640.1 495.1 639.5 496.5 639 498.5C638.5 500.5 636.8 503.4 635.4 506C634 508.6 632.9 511.7 630.8 513.8C628.7 515.9 624.7 517 623 518.5C621.3 520 621.6 521.8 620.6 523C619.6 524.2 617.9 524.2 617 526C616.1 527.8 615.4 531.2 615.4 533.8C615.4 536.4 615.7 539.5 617 541.5C618.3 543.5 620.5 544.7 623 546C625.5 547.3 628.7 548.5 632.3 549.2C635.9 549.9 640.5 549.9 644.6 550C648.7 550.1 654.9 550 657 550"/>
<path d="M592 563C591.8 562.8 592 562.8 590.8 561.5C589.6 560.2 586.5 557.2 584.6 555.4C582.7 553.6 580.2 552.1 579.4 550.8C578.6 549.5 578.9 548.6 580 547.7C581.1 546.8 582.9 545.8 586 545.5C589.1 545.2 594.4 545.1 598.5 546C602.6 546.9 607.2 549.2 610.8 550.8C614.4 552.4 616.4 554.4 620 555.4C623.6 556.4 627.7 556.9 632.3 557C636.9 557.1 642.6 556.4 647.7 556C652.8 555.6 658.3 555.3 663 554.8C667.7 554.3 673.8 553.3 676 553"/>
<path d="M639 460.6C638.6 460 638.5 458.1 636.9 457C635.3 455.9 632 455.4 629.2 453.8C626.4 452.2 623.1 450 620 447.7C616.9 445.4 613.9 443.1 610.8 440C607.7 436.9 604.3 432.5 601.5 429.2C598.7 425.9 595.6 422.5 593.8 420C592 417.5 590.3 414.5 590.8 414C591.3 413.5 594.7 415 597 417C599.3 419 601.8 422.9 604.6 426C607.4 429.1 610.7 432.6 613.8 435.4C616.9 438.2 619.9 440.9 623 443C626.1 445.1 629.7 446.9 632.3 448.3C634.9 449.7 637.2 450.7 638.5 451.4C639.8 452.1 638 451.9 640 452.3C642 452.7 647 453.7 650.8 453.8C654.6 453.9 658.8 453.8 663 453.2C667.2 452.6 673.8 450.5 676 450"/>
<path d="M641 456C642.7 456.3 647.2 457.8 651 458C654.8 458.2 659.8 458 664 457.5C668.2 457 674 455.4 676 455"/>
<path d="M626 403C626.9 403.3 629 408.2 630.8 410.8C632.6 413.4 635.3 416 637 418.5C638.7 421 640.8 423.9 641 426C641.2 428.1 640 430.8 638.5 430.8C637 430.8 634.1 426.3 632.3 426C630.5 425.7 628.2 427.4 627.7 429C627.2 430.6 629.7 434.8 629.2 435.4C628.7 435.9 625.9 433.9 624.6 432.3C623.3 430.7 621.8 428.6 621.5 426C621.2 423.4 622.3 419.8 623 417C623.7 414.2 625 411.3 625.5 409C626 406.7 625.1 402.7 626 403Z"/>
<path d="M632.3 435.4C633.2 435.1 636.5 437.7 638.5 438.5C640.5 439.3 644.6 439.6 644.6 440C644.6 440.4 640.4 441 638.5 441C636.6 441 634 440.9 633 440C632 439.1 631.4 435.6 632.3 435.4Z"/>
<path d="M325 70C326.4 70.5 331.2 73 333.3 73.3C335.4 73.6 335.6 72.7 337.5 71.8C339.4 70.8 342.4 68.8 344.9 67.5C347.4 66.2 349.8 64.8 352.2 63.9C354.7 62.9 357 62.3 359.6 61.8C362.2 61.3 365.4 60.7 368 60.7C370.6 60.7 372.9 61.2 375.4 61.8C377.8 62.4 380.3 63.5 382.7 64.4C385.1 65.3 387.7 66.4 390 67C392.3 67.6 394.7 67.5 396.3 68C397.9 68.5 398.9 69.2 399.5 70.2C400.1 71.2 400.4 72.4 400 73.8C399.6 75.3 398.5 77.3 397.4 79.1C396.3 80.8 394.8 82.6 393.2 84.3C391.6 86.1 389.8 88 388 89.6C386.2 91.2 384.2 92.6 382.7 93.8C381.2 95 379.8 95.9 379 97C378.2 98 377 98.8 378 100.1C379 101.4 381.8 103.7 385 104.5C388.2 105.3 394.1 104.7 397.2 105C400.4 105.3 401.9 105.5 404 106.5C406.1 107.5 408.2 109.2 410 111C411.8 112.8 413.5 115 414.5 117C415.5 119 415.8 120.8 416 123C416.2 125.2 415.8 127.5 416 130C416.2 132.5 417.3 135.3 417.5 138C417.7 140.7 417.5 143.7 417 146C416.5 148.3 415.2 149.8 414.5 152C413.8 154.2 412.6 156.7 412.5 159C412.4 161.3 413 163.9 414 166C415 168.1 417.2 169.8 418.5 171.5C419.8 173.2 421.3 174.3 421.5 176C421.7 177.7 420.7 179.8 419.6 181.7C418.5 183.6 416.6 184.5 415 187.5C413.4 190.5 411.5 197.4 410 199.7C408.5 201.9 407.2 200.3 405.8 201.2C404.4 202.1 402.7 203.4 401.6 204.9C400.6 206.4 399.7 208.4 399.5 210.2C399.3 211.9 400.2 213.5 400.6 215.4C400.9 217.3 401.5 219.6 401.6 221.7C401.7 223.8 401.5 226.1 401.1 228C400.8 229.9 399.2 231.3 399.5 233C399.8 234.7 402.1 237.4 402.6 238.3"/>
<path d="M318 86C318.6 85.7 320.2 85 321.5 84C322.8 83 324.4 81.3 326 80.2C327.6 79 329.5 78 331.2 77C333 76 334.6 75.3 336.5 74.4C338.4 73.5 340.7 72.6 342.8 71.8C344.9 70.9 347 69.9 349.1 69.1C351.2 68.3 353.3 67.5 355.4 67C357.5 66.5 359.6 66.1 361.7 66C363.8 65.9 365.9 66.2 368 66.5C370.1 66.8 372.2 67 374.3 67.5C376.4 68.1 378.7 68.8 380.6 69.7C382.5 70.5 384.3 71.8 385.9 72.8C387.4 73.8 389 74.9 390 76C391 77 391.6 77.9 391.6 79.1C391.6 80.3 391 81.9 390 83.3C389 84.7 387.4 86.2 385.9 87.5C384.3 88.8 382.4 90.1 380.6 91.2C378.9 92.3 376.8 93.2 375.4 94.3C374 95.4 372.9 96.7 372.2 98C371.5 99.3 371.1 100.8 371.1 102.2C371.2 103.6 371.8 105.2 372.7 106.4C373.6 107.6 374.9 108.7 376.4 109.5C377.9 110.4 379.9 111.1 381.6 111.7C383.4 112.2 385.1 112.1 386.9 112.7C388.7 113.3 390.7 115.2 392.7 115.5C394.7 115.8 397.2 114.7 399 114.2C400.8 113.7 402.2 112.7 403.7 112.6C405.2 112.5 406.9 112.9 407.9 113.7C408.9 114.5 409.3 115.7 409.5 117.3C409.7 119 409.3 121.4 409 123.7C408.7 125.9 408.3 128.6 407.9 131C407.5 133.4 407.5 136.1 406.9 138.3C406.2 140.6 405.1 142.7 404.2 144.7C403.3 146.6 402.1 148 401.6 149.9C401.1 151.8 400.9 154.1 401.1 156.2C401.3 158.3 402.4 160.3 402.6 162.5C402.9 164.7 402.1 167.4 402.6 169.2C403.2 171 404.8 172.2 405.8 173.4C406.9 174.6 408 175.3 408.9 176.6C409.9 177.8 411.3 178.9 411.5 181C411.7 183.1 411.1 187.3 410 189.2C408.9 191 406.7 191.2 404.8 192.3C402.8 193.4 400.4 194.2 398.4 195.4C396.5 196.7 394.4 198.1 393.2 199.7C392 201.2 391.4 203 391.1 204.9C390.8 206.8 391.2 209.1 391.6 211.2C392 213.3 392.8 215.4 393.2 217.5C393.6 219.6 394.2 222.1 394.2 223.8C394.2 225.6 394.1 226.8 393.2 228C392.3 229.2 390.7 230.4 389 231C387.3 231.6 384.6 231.6 383 231.5C381.4 231.4 380.2 230.5 379.6 230.3"/>
<path d="M312.6 115.6C312.6 114.8 312.6 112.8 312.8 111C313 109.2 313.4 106.9 314 105C314.6 103.1 315.5 101.5 316.2 99.8C317 98 317.5 96 318.5 94.5C319.5 93 320.8 92 322 91C323.2 90 324.6 89.3 326 88.5C327.4 87.8 329 87.2 330.2 86.5C331.4 85.7 332 84.7 333.4 83.8C334.8 82.9 336.7 82.2 338.6 81.2C340.5 80.2 343 78.5 344.9 77.5C346.8 76.5 348.6 75.4 350.1 74.9C351.7 74.4 353.1 74.1 354.4 74.4C355.6 74.7 356.6 75.6 357.5 76.5C358.4 77.4 358.6 78.7 359.6 79.6C360.7 80.5 362.4 81.4 363.8 81.7C365.2 82 366.6 81.7 368 81.2C369.4 80.7 371 79.2 372.2 78.6C373.4 78 374.4 77.5 375.4 77.5C376.3 77.5 377.5 77.9 378 78.6C378.5 79.3 378.8 80.6 378.5 81.7C378.2 82.8 377.4 84.1 376.4 85.4C375.3 86.7 373.6 88.1 372.2 89.6C370.8 91.1 369 92.9 368 94.3C367 95.7 366.6 96.7 366.4 98C366.2 99.3 366.5 100.8 366.9 102.2C367.4 103.6 368.4 105 369.1 106.4C369.8 107.8 370.6 109.2 371.1 110.6C371.7 112 371.8 113.4 372.2 114.8C372.6 116.2 373.1 117.5 373.5 119C373.9 120.5 374.4 122.3 374.5 124C374.6 125.7 372.5 127.6 373.8 129C375.1 130.4 379 132.4 382.2 132.6C385.4 132.8 390.7 130.7 393.2 130C395.7 129.3 396.2 128.5 397.4 128.4C398.6 128.3 400.1 128.6 400.6 129.4C401 130.2 400.7 131.8 400 133.1C399.3 134.4 397.8 135.9 396.4 137.3C394.9 138.7 393 140.4 391.1 141.5C389.2 142.6 386.6 143 384.8 143.6C383.1 144.2 381.7 144.3 380.6 145.2C379.6 146.1 379 147.4 378.5 148.8C378 150.3 377.4 152.5 377.4 154.1C377.4 155.7 377.6 157.2 378.5 158.3C379.4 159.4 381.4 159.7 382.7 160.4C384 161.1 385.5 161.4 386.4 162.5C387.3 163.6 387.3 165.2 387.9 166.7C388.6 168.2 389.3 169.8 390 171.3C390.7 172.8 391.6 173.9 392.1 175.5C392.6 177.1 393.1 179 393.2 180.8C393.3 182.5 393 184.2 392.7 186C392.4 187.8 392.1 189.7 391.6 191.2C391.2 192.8 390.4 194.1 390 195.5C389.6 196.9 389.5 198.1 389 199.7C388.5 201.2 387.4 203.3 386.9 204.9C386.4 206.5 386.3 207.5 385.9 209.1C385.4 210.7 384.7 212.6 384.3 214.3C383.9 216.1 383.6 218.3 383.2 219.6C382.8 220.9 382.3 222.2 381.6 222.2C381 222.2 380 220.7 379.6 219.6C379.1 218.5 379 217 379 215.4C379 213.8 379.3 211.9 379.6 210.2C379.8 208.4 381.2 206.6 380.6 204.9C380 203.2 377.8 201.2 376 200C374.2 198.8 372.3 198.1 370.1 197.5C367.9 196.9 364.8 196.8 362.8 196.5C360.7 196.2 360.6 196.2 358 195.5C355.4 194.8 350.9 192.3 347.3 192.3C343.7 192.3 338.8 195.4 336.5 195.4C334.2 195.4 334.2 193.9 333.4 192.3C332.5 190.7 332.1 188.1 331.2 186C330.4 183.9 329 181.4 328.1 179.7C327.2 178 326.9 176.9 326 176C325.1 175.1 324.1 174.6 323 174.1C321.9 173.6 320.8 173.2 319.2 173C317.8 172.8 315.9 172.7 314 172.6C312.1 172.5 309.9 172.4 308 172.2C306.1 172.1 304.4 172 302.8 171.9C301.1 171.8 299 171.6 298.2 171.5"/>
<path d="M312.6 115.6C312.7 115.5 312.8 115.8 313.2 114.8C313.7 113.7 314.6 111.4 315.5 109.5C316.4 107.6 317.5 105.4 318.5 103.5C319.5 101.6 320.2 99.7 321.5 98.2C322.8 96.8 324.6 95.7 326 94.8C327.4 94 328.8 93.7 330.2 93.3C331.6 92.9 333 92.4 334.4 92.2C335.8 92 337.4 92.6 338.6 92.2C339.8 91.8 340.5 90.4 341.8 89.6C343 88.8 344.4 88 345.9 87.5C347.5 87 349.3 86.6 351.2 86.5C353.1 86.3 355.8 86.4 357.5 86.5C359.2 86.5 360.5 86.7 361.7 87C362.9 87.3 364.2 87.6 364.9 88.5C365.5 89.5 365.5 91.2 365.4 92.8C365.3 94.3 364.4 96.4 364.3 98C364.2 99.6 364.5 100.8 364.9 102.2C365.2 103.6 365.9 105 366.4 106.4C366.9 107.8 368.1 108.9 368 110.6C367.9 112.2 365.9 114.5 365.9 116.3C365.9 118.1 367.3 119.8 368 121.5C368.7 123.3 369.4 124.7 370.1 126.8C370.8 128.9 371.8 131.7 372.2 134.2C372.6 136.6 372.9 139.4 372.7 141.5C372.5 143.6 371.6 145 371.1 146.8C370.7 148.5 370.2 150.2 370.1 152C370 153.8 370.4 155.5 370.6 157.2C370.8 159 370.7 160.9 371.1 162.5C371.6 164.1 372.2 165.5 373.2 166.7C374.3 167.9 376.2 168.8 377.4 169.8C378.7 170.9 379.6 171.9 380.6 173C381.6 174.1 382.7 175.1 383.2 176.6C383.7 178 383.6 180.1 383.7 181.8C383.8 183.5 383.5 184.9 383.5 187C383.5 189.1 383.8 192.3 383.7 194.4C383.6 196.5 384.6 199.2 382.6 199.7C380.7 200.1 375.8 198.1 372 197C368.2 195.9 364.5 194.2 360 193C355.5 191.8 348.9 190.9 345 190C341.1 189.1 338 189 336.5 187.6C335 186.2 336.5 183.8 336 181.8C335.5 179.8 334.3 177.4 333.4 175.5C332.4 173.6 331.4 172.3 330.2 170.2C329 168.2 327.2 164.8 326 163.2C324.8 161.7 324 161.2 323 161C322 160.8 321 161.5 320 161.8C319 162 318 162.5 317 162.5C316 162.5 315.2 162.1 314 161.8C312.8 161.4 311.1 160.8 309.5 160.6C307.9 160.3 305.1 160.3 304.2 160.2"/>
<path d="M303.5 158C304.4 157.9 307 157.5 308.8 157.6C310.5 157.7 312.5 158.4 314 158.8C315.5 159.1 316.8 159.4 317.8 159.5C318.8 159.6 319.4 159.5 320 159.1C320.6 158.7 321.1 158.2 321.5 157.2C321.9 156.3 321.9 155 322.2 153.5C322.6 152 323.5 150 323.5 148C323.5 146 323.3 142.8 322.5 141.2C321.7 139.7 320.2 139 318.8 138.8C317.3 138.5 315.3 139 314 139.5C312.7 140 311.5 141.6 311 142"/>
<path d="M312.6 115.6C312.7 115.6 312.8 116.1 313.2 115.8C313.7 115.5 314.5 115 315.5 114C316.5 113 318 111 319.2 109.5C320.5 108 321.9 106.2 323 105C324.1 103.8 325 102.8 326 102.2C327 101.6 328.1 101.2 329.1 101.2C330.2 101.2 331.1 101.5 332.3 102.2C333.5 102.9 334.9 104.6 336.5 105.3C338.1 106 340.4 106.6 341.8 106.4C343.1 106.2 343.8 105.2 344.9 104.3C345.9 103.4 346.8 102.4 348.1 101.2C349.3 99.9 350.9 98.2 352.2 97C353.6 95.7 355.4 94.2 356.4 93.8C357.5 93.4 358 93.6 358.6 94.3C359.1 95 359.3 96.5 359.6 98C359.9 99.5 359.9 101.5 360.1 103.2C360.3 105 360.9 107.4 360.6 108.5C360.4 109.6 359 108.9 358.6 110C358.1 111.1 357.9 113.5 358 115.2C358.1 117 358.6 118.8 359.1 120.5C359.6 122.2 360.5 124 361.2 125.8C361.9 127.5 362.8 129.2 363.3 131C363.8 132.8 364 134.5 364.3 136.2C364.6 138 364.7 139.8 364.9 141.5C365 143.2 365.5 145 365.4 146.8C365.3 148.5 364.6 150.4 364.3 152C364 153.6 363.3 154.6 363.3 156.2C363.3 157.8 364 159.7 364.3 161.4C364.6 163.2 365.1 165.4 365.4 166.7C365.7 168 365.3 168.1 365.9 169.2C366.5 170.3 367.8 172.2 369.1 173.4C370.3 174.6 372 175.5 373.2 176.6C374.5 177.6 375.6 178.6 376.4 179.7C377.2 180.8 377.6 182.4 378 183.4C378.4 184.4 379.6 184.3 378.5 185.5C377.4 186.7 374.7 190.2 371.7 190.5C368.7 190.8 363.2 188.3 360.6 187.6C358.1 186.8 357.8 186.8 356.4 186C355.1 185.2 353.6 184.1 352.2 182.8C350.9 181.6 349.7 180.2 348.6 178.7C347.5 177.1 346.5 175.2 345.4 173.4C344.3 171.6 343.2 169.4 341.8 167.8C340.3 166.1 338.2 165 336.5 163.6C334.8 162.2 332.6 160.8 331.2 159.3C329.9 157.9 329 156.7 328.6 155.2C328.2 153.6 329.6 151.7 329.1 149.9C328.7 148.2 326.9 146.5 326 144.7C325.1 142.8 324.4 140.8 323.5 139C322.6 137.2 321.6 135.8 320.5 134C319.4 132.2 317.6 129 317 128"/>
<path d="M314 116.2C314.7 116 316.7 115 318 114.5C319.3 114 320.7 113.2 322 113C323.3 112.8 324.8 112.8 326 113.2C327.2 113.5 328.1 114.2 329.1 115.2C330.2 116.3 331.4 118 332.3 119.5C333.2 120.9 333.8 122.6 334.4 123.7C335 124.7 335.7 125.6 336 126"/>
<path d="M379.6 230.3C378.6 230.5 375.7 231.3 373.8 231.3C371.9 231.3 369.1 231.3 368 230.3C366.9 229.3 366.4 226.5 367 225.4C367.6 224.3 371.5 224.5 371.8 223.5C372.1 222.5 370.2 220.9 368.9 219.6C367.6 218.3 365.9 216.8 364.1 215.7C362.3 214.6 359.3 213.3 358.3 212.8"/>
<path d="M345 210.9C344 211.4 340.2 212.7 338.8 213.8C337.4 214.9 336.4 216.7 336.9 217.7C337.4 218.7 339.8 218.9 341.7 219.6C343.6 220.2 346.6 220.6 348.5 221.6C350.4 222.6 352.8 223.8 353.4 225.4C354 227 353.5 229.7 352.4 231.3C351.3 232.9 348.9 234.1 346.6 235.1C344.3 236.1 340.4 235.8 338.8 237.1C337.2 238.4 338.5 241.4 336.9 242.9C335.3 244.4 331.4 245.5 329.1 245.8C326.8 246.1 324.9 245.7 323.3 244.9C321.7 244.1 321.3 241.5 319.4 241C317.5 240.5 313.5 242.2 311.7 241.9C309.9 241.6 308.4 240.1 308.7 239C309 237.9 311.5 235.6 313.6 235.1C315.7 234.6 318.8 236.4 321.4 236.1C324 235.8 327.2 234.3 329.1 233.2C331 232.1 333.3 230.6 333 229.3C332.7 228 329.5 226.7 327.2 225.4C324.9 224.1 321.7 222.7 319.4 221.6C317.1 220.5 315.5 218.6 313.6 218.6C311.7 218.6 309.4 220.5 307.8 221.6C306.2 222.7 305.2 224.4 303.9 225.4C302.6 226.4 300.6 227.1 300 227.4"/>
<path d="M393.2 233.2C392.9 234.2 392.6 237.1 391.3 239C390 240.9 387.7 243.8 385.4 244.9C383.1 246 381.3 245.2 377.7 245.8C374.1 246.4 368.9 248 364 248.7C359.1 249.3 353.3 249.7 348.5 249.7C343.7 249.7 338.9 249.3 335 248.7C331.1 248 327.8 247.1 325.2 245.8C322.6 244.5 322 242.5 319.4 241C316.8 239.5 312.4 237.4 309.7 237C307 236.6 304.1 238.2 303 238.5"/>
<path d="M290.8 179C291.5 178.8 294.1 178.1 295.2 177.5C296.4 176.9 296.9 176 297.5 175.2C298.1 174.5 298.8 173.4 299 173"/>
<path d="M336 126.3C336.8 125.3 339.2 124.7 340.7 124.2C342.2 123.7 343.5 123.1 344.9 123.1C346.3 123.1 347.7 123.4 349.1 124.2C350.5 125 352.2 126.5 353.3 127.8C354.4 129.2 355.4 130.4 355.9 132C356.4 133.6 356.6 135.5 356.4 137.3C356.3 139.1 355.6 140.8 354.9 142.6C354.2 144.3 353 146.2 352.2 147.8C351.5 149.4 350.6 150.6 350.1 152C349.7 153.4 349.3 154.8 349.6 156.2C349.9 157.6 351 158.8 351.7 160.4C352.4 162 353.3 164.1 353.8 165.7C354.3 167.2 354.8 168.7 354.9 169.8C355 171 355.2 172.4 354.6 172.5C354 172.6 352.5 171.4 351.2 170.4C349.9 169.4 348.6 168.1 347 166.7C345.4 165.3 343.5 163.6 341.8 162C340 160.4 337.9 158.6 336.5 157.2C335.1 155.9 334 155.2 333.4 154.1C332.7 153 332.5 152 332.8 150.9C333.1 149.9 334.8 148.9 335.4 147.8C336.1 146.8 336.6 146.1 337 144.7C337.4 143.2 337.6 141.2 337.6 139.4C337.5 137.7 336.8 135.7 336.5 134.2C336.2 132.6 336.1 131.3 336 130C335.9 128.7 335.2 127.3 336 126.3Z"/>
<path d="M308 144C307.8 145.1 308.8 146.6 309.5 148C310.2 149.4 311 151.2 312 152.5C313 153.8 314.2 155.2 315.5 156C316.8 156.8 318.4 157.4 319.5 157C320.6 156.6 321.3 155 321.8 153.5C322.3 152 322.4 149.7 322.3 148C322.2 146.3 321.7 144.7 321 143.5C320.3 142.3 319.2 141.5 318 141C316.8 140.5 315.2 140.4 314 140.5C312.8 140.6 311.5 140.9 310.5 141.5C309.5 142.1 308.2 142.9 308 144Z"/>
<path d="M312.8 116.2C313.9 116.1 317.3 115.2 319.4 115.5C321.5 115.8 323.8 116.7 325.2 117.7C326.6 118.7 327.7 120 328.1 121.3C328.5 122.6 328.1 124.5 327.4 125.7C326.7 126.9 324.3 128.1 323.7 128.6" stroke-width="0.9"/>
<path d="M303.5 159.5C305.6 158.4 307.6 160.9 309 161.5C310.4 162.1 310.8 162.7 312 163C313.2 163.3 315 163.2 316 163.5C317 163.8 318.3 164.3 318 165C317.7 165.7 315.5 166.9 314 167.5C312.5 168.1 310.7 168.2 309 168.5C307.3 168.8 305.8 169.2 304 169.5C302.2 169.8 299.8 170.8 298.5 170.5C297.2 170.2 295.7 169.8 296.5 168C297.3 166.2 301.4 160.6 303.5 159.5Z"/>
<path d="M302 160.5C303.6 159.9 305.7 162 307 162.5C308.3 163 309.4 163 310 163.5C310.6 164 311 164.9 310.5 165.5C310 166.1 308.4 166.6 307 167C305.6 167.4 303.5 167.8 302 168C300.5 168.2 298.8 168.8 298 168.5C297.2 168.2 296.8 167.3 297.5 166C298.2 164.7 300.4 161.1 302 160.5Z"/>
<path d="M306 116.8C307.8 117 313.6 117.4 316.8 118C320 118.6 323.2 119.8 325 120.6C326.8 121.4 327.2 122.2 327.5 123.1C327.8 124 328.3 123.8 326.5 126C324.7 128.2 320.6 132.2 316.9 136C313.1 139.8 306.1 146.8 304 149" stroke-width="0.85"/>
<path d="M306 117.8C307.6 118 312.8 118.3 315.6 118.9C318.4 119.5 321.2 120.4 322.8 121.2C324.4 122 325 122.8 325.2 123.7C325.4 124.6 325.8 124.6 324.2 126.6C322.6 128.6 319.1 132.1 315.7 135.6C312.3 139.1 305.9 145.4 304 147.3" stroke-width="0.85"/>
<path d="M306 118.8C307.4 119 312.1 119.3 314.5 119.8C316.9 120.3 319.1 121 320.5 121.8C321.9 122.5 322.8 123.4 323 124.3C323.2 125.2 323.4 125.4 322 127.2C320.6 129 317.4 132 314.4 135.1C311.4 138.2 305.7 143.8 304 145.6" stroke-width="0.85"/>
<path d="M306 119.8C307.2 120 311.4 120.2 313.4 120.7C315.4 121.2 317 121.8 318.2 122.5C319.4 123.2 320.5 124.1 320.8 125C321.1 125.9 321.1 126.3 319.8 127.9C318.5 129.5 315.8 132 313.2 134.7C310.6 137.4 305.5 142.4 304 143.9" stroke-width="0.85"/>
<path d="M306 120.8C307 121 310.5 121.3 312.2 121.7C313.9 122.1 314.9 122.4 316 123.1C317.1 123.8 318.2 124.7 318.5 125.6C318.8 126.5 318.6 127 317.5 128.5C316.4 129.9 314.2 132 312 134.3C309.8 136.6 305.3 140.9 304 142.2" stroke-width="0.85"/>
<path d="M306 121.8C306.9 121.9 309.8 122.3 311.1 122.6C312.4 122.9 313 123.1 313.8 123.7C314.6 124.3 316 125.3 316.2 126.2C316.4 127.1 316.1 127.8 315.2 129.1C314.3 130.4 312.6 132 310.7 133.9C308.8 135.8 305.1 139.4 304 140.5" stroke-width="0.85"/>
<path d="M306 122.8C306.7 122.9 309.1 123.2 310 123.5C310.9 123.8 310.8 123.8 311.5 124.3C312.2 124.8 313.8 125.9 314 126.8C314.2 127.7 313.8 128.6 313 129.7C312.2 130.8 311 131.9 309.5 133.4C308 134.9 304.9 137.9 304 138.8" stroke-width="0.85"/>
<path d="M306 123.8C306.5 123.9 308.4 124.2 308.9 124.4C309.4 124.6 308.7 124.4 309.2 124.9C309.7 125.4 311.5 126.5 311.8 127.4C312.1 128.3 311.4 129.4 310.8 130.3C310.2 131.2 309.4 131.9 308.3 133C307.2 134.1 304.7 136.4 304 137.1" stroke-width="0.85"/>
<path d="M306 124.8C306.3 124.9 307.6 125.3 307.8 125.4C308 125.5 306.7 125.1 307 125.6C307.3 126 309.2 127.2 309.5 128.1C309.8 129 308.9 130.2 308.5 131C308.1 131.8 307.8 131.9 307 132.6C306.2 133.3 304.5 134.9 304 135.4" stroke-width="0.85"/>
<path d="M322.5 133.5C321.4 134.7 318.2 138 316 140.5C313.8 143 311.5 146.6 309.5 148.5C307.5 150.4 304.9 151.4 304 152" stroke-width="0.8"/>
<path d="M320.9 134C319.9 135.1 316.8 138.4 314.8 140.7C312.8 143 310.7 146 308.9 147.6C307.1 149.2 304.8 150 304 150.5" stroke-width="0.8"/>
<path d="M319.3 134.5C318.4 135.6 315.4 138.9 313.6 140.9C311.8 142.9 309.9 145.3 308.3 146.7C306.7 148 304.7 148.6 304 149" stroke-width="0.8"/>
<path d="M317.7 135C316.8 136 314.1 139.3 312.4 141.1C310.7 142.9 309.1 144.7 307.7 145.8C306.3 146.9 304.6 147.2 304 147.5" stroke-width="0.8"/>
<path d="M316.1 135.5C315.3 136.5 312.7 139.7 311.2 141.3C309.7 142.9 308.3 144.1 307.1 144.9C305.9 145.7 304.5 145.8 304 146" stroke-width="0.8"/>
<path d="M286.6 209.6C287.5 209.6 290.5 210 292.1 209.6C293.7 209.2 294.8 207.7 296.1 207.1C297.4 206.5 298.9 206 300.1 206.1C301.4 206.2 302.8 206.8 303.6 207.6C304.4 208.4 304.9 209.7 305.1 211.1C305.3 212.5 304.9 214.4 304.6 216.1C304.3 217.8 303.9 219.3 303.1 221.1C302.4 222.8 301.3 224.8 300.1 226.6C298.9 228.3 297.4 230 296.1 231.6C294.8 233.2 293.6 235 292.3 235.9C291 236.8 289.8 236.8 288.1 236.8C286.4 236.8 283.9 236.4 282 235.8C280.1 235.2 277.8 234.2 276.5 233.3C275.2 232.4 274.6 231 274.2 230.1C273.8 229.2 273.5 229.1 273.8 228.1C274.1 227.1 275 225.4 276 224.1C277 222.8 278.8 221.2 280 220.1C281.2 219 282.1 218.4 283 217.6C283.9 216.8 285.2 215.5 285.6 215.1"/>
<path d="M286.6 207.6C287.4 207.5 290.2 207.5 291.6 207.1C293 206.7 293.8 205.5 295.1 205C296.4 204.5 298 204 299.6 204C301.2 204 303.4 204.2 304.6 205C305.8 205.8 306.4 207.6 306.6 209.1C306.9 210.6 306.4 212.3 306.1 214.1C305.8 215.9 305.4 218.1 304.6 220.1C303.8 222.1 302.4 224.2 301.1 226.1C299.9 228 298.4 229.5 297.1 231.3C295.8 233.1 293.9 235.4 293.1 236.7C292.3 238 293.4 238.9 292.5 239C291.6 239.1 289.8 238 288 237.5C286.2 237 284 236.8 282 236C280 235.2 277.5 234 276 233C274.5 232 273.8 230.8 273 230C272.2 229.2 272.2 228.5 271.5 228.5C270.8 228.5 269 229.8 268.5 230"/>
<path d="M286.6 205.6C287.4 205.4 289.7 205 291.1 204.5C292.5 204 293.6 203.1 295.1 202.5C296.6 201.9 298.3 201.2 300.1 201C301.9 200.8 304.6 200.8 306.1 201.5C307.6 202.2 308.7 203.4 309.1 205C309.5 206.6 309 208.9 308.6 211.1C308.2 213.3 307.5 215.8 306.6 218.1C305.7 220.3 304.4 222.5 303.1 224.6C301.8 226.7 300 228.7 298.6 230.6C297.2 232.5 295.9 233.9 294.6 236.1C293.3 238.2 292.6 242.9 291 243.5C289.4 244.1 287 240.8 285 239.8C283 238.8 281 238.2 279 237.5C277 236.8 274.8 235.9 273 235.2C271.2 234.6 270.3 233.9 268.5 233.8C266.7 233.6 264.4 234.1 262.4 234.5C260.4 234.9 258.5 235.9 256.5 236C254.5 236.1 252.2 236 250.5 235.2C248.8 234.5 247.2 232.8 246 231.5C244.8 230.2 243.5 228.4 243 227.8"/>
<path d="M286.6 204C287.4 203.8 289.7 203.2 291.1 202.5C292.5 201.8 293.4 200.8 295.1 200C296.8 199.2 298.9 198.4 301.1 198C303.3 197.6 306.3 197.2 308.1 197.5C309.9 197.8 311.3 198.8 312.1 200C312.9 201.2 313.3 203 313.1 205C312.9 207 311.9 209.9 311.1 212.1C310.3 214.3 309.2 216.1 308.1 218.1C307 220.1 305.9 221.9 304.6 223.9C303.3 225.9 301.6 227.9 300.1 230.1C298.6 232.3 297.1 234.1 295.6 237.1C294.1 240.1 292.3 246.6 291 248C289.7 249.4 289.5 246.6 288 245.8C286.5 244.9 284 243.6 282 242.8C280 241.9 277.8 241.1 276 240.5C274.2 239.9 273.2 239.1 271.5 239C269.8 238.9 267.5 239.6 265.5 239.8C263.5 239.9 261.5 239.9 259.5 239.8C257.5 239.6 255.5 239.5 253.5 239C251.5 238.5 249.5 237.8 247.5 236.8C245.5 235.8 243.5 234.4 241.5 233C239.5 231.6 236.5 229.2 235.5 228.5"/>
<path d="M286.6 202C287.4 201.7 290 200.8 291.6 200C293.2 199.2 294.4 198.2 296.1 197.5C297.9 196.8 299.9 196 302.1 195.5C304.3 195 307.1 194.4 309.1 194.5C311.1 194.6 312.8 194.9 314.1 196C315.4 197.1 316.8 199 317.1 201C317.4 203 316.8 205.9 316.1 208.1C315.4 210.3 314.3 212.1 313.1 214.1C311.9 216.1 310.4 218.2 309.1 219.9C307.9 221.6 306.9 222.5 305.6 224.3C304.3 226.1 302.7 228.2 301.1 230.6C299.5 233 298 235.2 296.1 238.6C294.2 242 291.4 249.6 289.5 251C287.6 252.4 286.8 248.2 285 247.2C283.2 246.2 281 245.6 279 245C277 244.4 275.2 243.9 273 243.5C270.8 243.1 268 242.8 265.5 242.8C263 242.8 260.5 243.6 258 243.5C255.5 243.4 253 242.6 250.5 242C248 241.4 245.2 240.5 243 239.8C240.8 239 239.2 238.1 237 237.5C234.8 236.9 232 236.6 229.5 236C227 235.4 224.2 234.8 222 233.8C219.8 232.8 217 230.6 216 230"/>
<path d="M288 196C288.3 195.6 288.7 193.7 290 193.5C291.3 193.3 294 195.1 296 195C298 194.9 299.7 193.5 302 193C304.3 192.5 307.7 192 310 192C312.3 192 314.5 192.2 316 193C317.5 193.8 318.3 195.5 319 197C319.7 198.5 320.2 200 320 202C319.8 204 318.8 206.8 318 209C317.2 211.2 316.2 213.2 315 215C313.8 216.8 312.3 218.4 311 220C309.7 221.6 308.5 222.7 307 224.5C305.5 226.3 303.7 228.8 302 231C300.3 233.2 298.5 235.8 297 238C295.5 240.2 294.3 242.5 293 244.5C291.7 246.5 289.7 249.1 289 250"/>
<path d="M202.5 238.2C203.5 238.6 206.2 239.8 208.5 240.5C210.8 241.2 213.2 242.2 216 242.8C218.8 243.2 222 243.5 225 243.5C228 243.5 231.2 242.6 234 242.8C236.8 242.9 239 243.6 241.5 244.2C244 244.9 246.2 246 249 246.5C251.8 247 255 247.2 258 247.2C261 247.2 264.2 246.5 267 246.5C269.8 246.5 272.2 246.6 274.5 247.2C276.8 247.9 279 249.1 280.5 250.2C282 251.4 282.8 252.7 283.5 254C284.2 255.3 284.8 257.3 285 258"/>
<path d="M189 257C189.5 257.5 190.5 259.6 192 260C193.5 260.4 195.8 259.9 198 259.2C200.2 258.6 202.8 257.2 205.5 256.2C208.2 255.2 211.5 254 214.5 253.2C217.5 252.5 220.5 251.9 223.5 251.8C226.5 251.6 229.8 252 232.5 252.5C235.2 253 238 254.1 240 254.8C242 255.4 243.2 256.2 244.5 256.2C245.8 256.2 246 255.1 247.5 254.8C249 254.4 251.2 254.2 253.5 254.3C255.8 254.4 258.6 254.8 261 255.2C263.4 255.6 265.6 256.2 267.8 257C269.9 257.8 271.9 259 273.8 260C275.6 261 278.1 262.5 279 263"/>
<path d="M283 267C284 266.6 286.8 265.3 289 264.5C291.2 263.7 293.2 262.2 296 262C298.8 261.8 303 262.2 306 263C309 263.8 312.3 265.3 314 267C315.7 268.7 316.5 271.3 316 273C315.5 274.7 313 276.5 311 277C309 277.5 306.3 276.8 304 276C301.7 275.2 299.2 273.1 297 272C294.8 270.9 292 269.9 291 269.5"/>
<path d="M278 228C278.2 226.9 279.1 225 280 224C280.9 223 282.2 222.4 283.5 222C284.8 221.6 286.7 221.8 288 221.5C289.3 221.2 291 221.2 291.5 220.5C292 219.8 291.4 218.2 291 217.5C290.6 216.8 289.1 216.6 289 216C288.9 215.4 289.7 214.4 290.5 214C291.3 213.6 293 213.3 294 213.5C295 213.7 296 214.2 296.5 215C297 215.8 297.2 217.4 297 218.5C296.8 219.6 296 220.6 295.5 221.5C295 222.4 294.2 223 294 224C293.8 225 294.7 226.3 294.5 227.5C294.3 228.7 293.8 230 293 231C292.2 232 291.2 232.9 290 233.5C288.8 234.1 287.3 234.6 286 234.5C284.7 234.4 283.2 233.7 282 233C280.8 232.3 279.7 231.3 279 230.5C278.3 229.7 277.8 229.1 278 228Z"/>
<path d="M320.5 188C320 189.3 320.6 191.8 321 194C321.4 196.2 322.2 198.9 323 201C323.8 203.1 325 205.8 326 206.5C327 207.2 328.3 206.2 329 205C329.7 203.8 330.1 201 330 199C329.9 197 329 194.8 328.5 193C328 191.2 327.8 189.2 327 188C326.2 186.8 325.1 186 324 186C322.9 186 321 186.7 320.5 188Z"/>
<path d="M291 182C292 181.2 294.3 180.8 296 181C297.7 181.2 299.7 182 301 183C302.3 184 303.8 185.8 304 187C304.2 188.2 303.2 189.8 302 190.5C300.8 191.2 298.7 191.2 297 191C295.3 190.8 293.2 190.3 292 189.5C290.8 188.7 290.2 187.2 290 186C289.8 184.8 290 182.8 291 182Z"/>
<path d="M309 220C309.8 219.7 312.3 218.4 314 218C315.7 217.6 317.3 217.2 319 217.5C320.7 217.8 322.3 218.9 324 220C325.7 221.1 327.5 222.7 329 224C330.5 225.3 332.1 226.7 333 228C333.9 229.3 334.7 230.8 334.5 232C334.3 233.2 333.4 234.2 332 235C330.6 235.8 328 236.6 326 237C324 237.4 322 237.5 320 237.5C318 237.5 315.7 236.9 314 237C312.3 237.1 310.7 237.8 310 238"/>
<path d="M312 223.5 L320.5 223.5"/>
<path d="M341.5 202C341.9 201.7 343 201.4 343.5 201.6C344 201.8 344.7 202.6 344.6 203C344.5 203.4 343.6 204.1 343 204.2C342.4 204.3 341.6 204 341.3 203.6C341.1 203.2 341.1 202.3 341.5 202Z"/>
<path d="M304 257.6 L309 257.6"/>
<path d="M329.5 262 L335.6 262"/>
</g></g>
<circle cx="302.7" cy="156.8" r="2.0" fill="#000"/>
<circle cx="295.6" cy="165.6" r="2.0" fill="#000"/>
<circle cx="312.5" cy="115.8" r="1.6" fill="#000"/>
<circle cx="250.7" cy="232" r="1.2" fill="#000"/>
<circle cx="466.4" cy="80.2" r="1.1" fill="#000"/>
<circle cx="333" cy="210.6" r="1.4" fill="#000"/>
<circle cx="361" cy="228" r="1.1" fill="#000"/>
<circle cx="371.3" cy="266.3" r="1.0" fill="#000"/>
<circle cx="546.5" cy="275.3" r="1.0" fill="#000"/>
<g fill="none" stroke="#000" stroke-width="1.1" stroke-linejoin="round">
<path d="M125 145L133.8 147.5L143.8 148.8L150 151.8L160 151.8L166.2 150L162 145L171.2 135.5L176.2 138.8L182.5 142L188.8 140.5L193.8 136.2L200 131.2L207.5 128L216.2 125L222.5 120.8L230 118L237.5 115.8L245 117L252.5 115.8L258.8 118L266.2 120.8L275 123.8L281.2 128L286.2 133.8L289.5 141.2L290 148.8L288.8 153.8L283.8 155L287 162.5L292.5 163.8L295 165.8L291 169L288.8 175L287.5 185L286.5 200L285.5 208L283 214L279 217.5L272.5 219.6L262 221L250 222.5L236 224L224 226"/>
<path d="M283.8 55L279.8 76.9L281.5 96.9L289.8 97.2L298.8 88.8L311.2 81.2L320 75L330 67.5L340 60.6L348.8 55"/>
<path d="M291.9 55L291.2 65L293.1 71.9L297.5 76.9L299 86.2L307.5 81.9L315 76.9L310.6 70.6L313.1 63.8L320 61.2L324.4 62.5L326.2 55.6L330 59.4L331.2 55"/>
<path d="M351.2 55L340 63.1L330 70L320 76.9L311.2 83.8L301.2 89.4L295 94.4L288.8 100L282.5 105.6L280 108.8L283.8 112.5L288.8 111.2L293.8 115L300 112.5L301.9 117.5L302.8 125L301.6 112L300.4 119.3L301.6 124.3L302.2 129.2L301 136.5L298.6 143.9L296.1 150L295.5 153.1L288.7 153.7"/>
<path d="M266 101L269.7 99.7L272.8 101.5L273.4 108.3"/>
<path d="M215 227L215.6 221L206 217L201 213L200 205L204 199L210.4 196.6L206 193L198 191L191.6 189.4L186 193L179 197L177 205L181 213L186 218L187 225L183 231L173 236L170 239L166 250.6L173 249L181 243.4L185 240L189 242.6L190 247L188 251L193 245L194 241L192.4 235L200 233L209 230L215 227"/>
<path d="M140 305L146 303L152 299L155 294L160 289L166 283L172 277L178 269L184 259L181 259.4L170 267L164 273L159 280L161 269L163 261L172 255L180 251L188 245"/>
<path d="M159.7 290L156.8 293.9L153 301.7L144.2 304L142.9 309.4L145.2 319.1L147.1 328.8L143.2 335.6L146.2 340.5L147.1 356L145.2 367.7L141.3 379.3L136.4 391L136.2 395.8L136.7 402.4L134 411.9L135.5 422L136.7 430.8L139.6 435.2L137.7 443.9L134 449.8L128.9 455.6L124.6 459.2"/>
<path d="M124 403.4L136.7 402.4"/>
</g>
<g stroke="#b2b2b2" stroke-width="1.45" fill="none">
<path d="M194.7 58.4V563.0" stroke-dasharray="1.6 4.95"/>
<path d="M265.3 58.4V563.0" stroke-dasharray="1.6 4.95"/>
<path d="M336 58.4V563.0" stroke-dasharray="1.6 4.95"/>
<path d="M406.6 58.4V563.0" stroke-dasharray="1.6 4.95"/>
<path d="M477.2 58.4V563.0" stroke-dasharray="1.6 4.95"/>
<path d="M547.9 58.4V563.0" stroke-dasharray="1.6 4.95"/>
<path d="M618.6 58.4V563.0" stroke-dasharray="1.6 4.95"/>
<path d="M130.1 105.2H676.0" stroke-dasharray="1.7 5.05"/>
<path d="M130.1 190H676.0" stroke-dasharray="1.7 5.05"/>
<path d="M130.1 274.8H676.0" stroke-dasharray="1.7 5.05"/>
<path d="M130.1 359.6H676.0" stroke-dasharray="1.7 5.05"/>
<path d="M130.1 444.4H676.0" stroke-dasharray="1.7 5.05"/>
<path d="M130.1 529.2H676.0" stroke-dasharray="1.7 5.05"/>
</g>
<text x="146.3" y="109.5" font-size="22" fill="#2c2c2c" stroke="#fff" stroke-width="0.5" textLength="129" lengthAdjust="spacing" style="word-spacing:8px">Z = 2.5 m</text>
<rect x="523" y="63.5" width="23.0" height="11.0" fill="#fff"/>
<text x="523.9" y="73.4" font-size="12" textLength="21.3" lengthAdjust="spacingAndGlyphs" fill="#000" stroke="#000" stroke-width="0.3">17.5</text>
<rect x="443.3" y="81.9" width="13.0" height="11.0" fill="#fff"/>
<text x="444.1" y="91.8" font-size="12" textLength="11.4" lengthAdjust="spacingAndGlyphs" fill="#000" stroke="#000" stroke-width="0.3">17</text>
<rect x="374.5" y="98.2" width="23.0" height="11.0" fill="#fff"/>
<text x="375.4" y="108.1" font-size="12" textLength="21.3" lengthAdjust="spacingAndGlyphs" fill="#000" stroke="#000" stroke-width="0.3">16.5</text>
<rect x="386.1" y="113.3" width="13.0" height="11.0" fill="#fff"/>
<text x="386.9" y="123.2" font-size="12" textLength="11.4" lengthAdjust="spacingAndGlyphs" fill="#000" stroke="#000" stroke-width="0.3">16</text>
<rect x="371" y="127.5" width="23.0" height="11.0" fill="#fff"/>
<text x="371.9" y="137.4" font-size="12" textLength="21.3" lengthAdjust="spacingAndGlyphs" fill="#000" stroke="#000" stroke-width="0.3">15.5</text>
<rect x="322.9" y="126.1" width="13.0" height="11.0" fill="#fff"/>
<text x="323.7" y="136" font-size="12" textLength="11.4" lengthAdjust="spacingAndGlyphs" fill="#000" stroke="#000" stroke-width="0.3">14</text>
<rect x="634.1" y="169" width="13.0" height="11.0" fill="#fff"/>
<text x="634.9" y="178.9" font-size="12" textLength="11.4" lengthAdjust="spacingAndGlyphs" fill="#000" stroke="#000" stroke-width="0.3">18</text>
<rect x="335.8" y="186.1" width="23.0" height="11.0" fill="#fff"/>
<text x="336.7" y="196" font-size="12" textLength="21.3" lengthAdjust="spacingAndGlyphs" fill="#000" stroke="#000" stroke-width="0.3">15.5</text>
<rect x="360.4" y="184" width="23.0" height="11.0" fill="#fff"/>
<text x="361.2" y="193.9" font-size="12" textLength="21.3" lengthAdjust="spacingAndGlyphs" fill="#000" stroke="#000" stroke-width="0.3">14.5</text>
<rect x="376" y="194" width="13.0" height="11.0" fill="#fff"/>
<text x="376.8" y="203.9" font-size="12" textLength="11.4" lengthAdjust="spacingAndGlyphs" fill="#000" stroke="#000" stroke-width="0.3">15</text>
<rect x="344.1" y="204" width="13.0" height="11.0" fill="#fff"/>
<text x="344.9" y="213.9" font-size="12" textLength="11.4" lengthAdjust="spacingAndGlyphs" fill="#000" stroke="#000" stroke-width="0.3">16</text>
<rect x="526.2" y="211" width="23.0" height="11.0" fill="#fff"/>
<text x="527.1" y="220.9" font-size="12" textLength="21.3" lengthAdjust="spacingAndGlyphs" fill="#000" stroke="#000" stroke-width="0.3">17.5</text>
<rect x="255.9" y="225.8" width="13.0" height="11.0" fill="#fff"/>
<text x="256.7" y="235.7" font-size="12" textLength="11.4" lengthAdjust="spacingAndGlyphs" fill="#000" stroke="#000" stroke-width="0.3">15</text>
<rect x="392.3" y="237.9" width="23.0" height="11.0" fill="#fff"/>
<text x="393.2" y="247.8" font-size="12" textLength="21.3" lengthAdjust="spacingAndGlyphs" fill="#000" stroke="#000" stroke-width="0.3">16.5</text>
<rect x="407.7" y="250.7" width="13.0" height="11.0" fill="#fff"/>
<text x="408.5" y="260.6" font-size="12" textLength="11.4" lengthAdjust="spacingAndGlyphs" fill="#000" stroke="#000" stroke-width="0.3">17</text>
<rect x="510.5" y="257" width="13.0" height="11.0" fill="#fff"/>
<text x="511.3" y="266.9" font-size="12" textLength="11.4" lengthAdjust="spacingAndGlyphs" fill="#000" stroke="#000" stroke-width="0.3">18</text>
<rect x="644" y="256" width="13.0" height="11.0" fill="#fff"/>
<text x="644.8" y="265.9" font-size="12" textLength="11.4" lengthAdjust="spacingAndGlyphs" fill="#000" stroke="#000" stroke-width="0.3">18</text>
<rect x="288.2" y="259.8" width="13.0" height="11.0" fill="#fff"/>
<text x="289.1" y="269.7" font-size="12" textLength="11.4" lengthAdjust="spacingAndGlyphs" fill="#000" stroke="#000" stroke-width="0.3">16</text>
<rect x="278.9" y="252.8" width="23.0" height="11.0" fill="#fff"/>
<text x="279.8" y="262.7" font-size="12" textLength="21.3" lengthAdjust="spacingAndGlyphs" fill="#000" stroke="#000" stroke-width="0.3">15.5</text>
<rect x="271.6" y="261.8" width="23.0" height="11.0" fill="#fff"/>
<text x="272.5" y="271.7" font-size="12" textLength="21.3" lengthAdjust="spacingAndGlyphs" fill="#000" stroke="#000" stroke-width="0.3">16.5</text>
<rect x="363.9" y="269.3" width="23.0" height="11.0" fill="#fff"/>
<text x="364.8" y="279.2" font-size="12" textLength="21.3" lengthAdjust="spacingAndGlyphs" fill="#000" stroke="#000" stroke-width="0.3">17.5</text>
<rect x="265.4" y="285.5" width="23.0" height="11.0" fill="#fff"/>
<text x="266.2" y="295.4" font-size="12" textLength="21.3" lengthAdjust="spacingAndGlyphs" fill="#000" stroke="#000" stroke-width="0.3">17.5</text>
<rect x="383.3" y="297" width="13.0" height="11.0" fill="#fff"/>
<text x="384.1" y="306.9" font-size="12" textLength="11.4" lengthAdjust="spacingAndGlyphs" fill="#000" stroke="#000" stroke-width="0.3">18</text>
<rect x="429.1" y="301" width="13.0" height="11.0" fill="#fff"/>
<text x="429.9" y="310.9" font-size="12" textLength="11.4" lengthAdjust="spacingAndGlyphs" fill="#000" stroke="#000" stroke-width="0.3">18</text>
<rect x="528" y="289" width="13.0" height="11.0" fill="#fff"/>
<text x="528.8" y="298.9" font-size="12" textLength="11.4" lengthAdjust="spacingAndGlyphs" fill="#000" stroke="#000" stroke-width="0.3">18</text>
<rect x="231" y="322" width="13.0" height="11.0" fill="#fff"/>
<text x="231.8" y="331.9" font-size="12" textLength="11.4" lengthAdjust="spacingAndGlyphs" fill="#000" stroke="#000" stroke-width="0.3">17</text>
<rect x="312.3" y="325.5" width="13.0" height="11.0" fill="#fff"/>
<text x="313.1" y="335.4" font-size="12" textLength="11.4" lengthAdjust="spacingAndGlyphs" fill="#000" stroke="#000" stroke-width="0.3">17</text>
<rect x="153" y="339.2" width="13.0" height="11.0" fill="#fff"/>
<text x="153.8" y="349.1" font-size="12" textLength="11.4" lengthAdjust="spacingAndGlyphs" fill="#000" stroke="#000" stroke-width="0.3">17</text>
<rect x="141.5" y="401" width="23.0" height="11.0" fill="#fff"/>
<text x="142.3" y="410.9" font-size="12" textLength="21.3" lengthAdjust="spacingAndGlyphs" fill="#000" stroke="#000" stroke-width="0.3">17.5</text>
<rect x="499.5" y="396" width="13.0" height="11.0" fill="#fff"/>
<text x="500.3" y="405.9" font-size="12" textLength="11.4" lengthAdjust="spacingAndGlyphs" fill="#000" stroke="#000" stroke-width="0.3">18</text>
<rect x="471.5" y="409.7" width="13.0" height="11.0" fill="#fff"/>
<text x="472.3" y="419.6" font-size="12" textLength="11.4" lengthAdjust="spacingAndGlyphs" fill="#000" stroke="#000" stroke-width="0.3">18</text>
<rect x="265.8" y="425.9" width="13.0" height="11.0" fill="#fff"/>
<text x="266.6" y="435.8" font-size="12" textLength="11.4" lengthAdjust="spacingAndGlyphs" fill="#000" stroke="#000" stroke-width="0.3">18</text>
<rect x="285.8" y="448.3" width="23.0" height="11.0" fill="#fff"/>
<text x="286.7" y="458.2" font-size="12" textLength="21.3" lengthAdjust="spacingAndGlyphs" fill="#000" stroke="#000" stroke-width="0.3">18.5</text>
<rect x="628.5" y="463.5" width="23.0" height="11.0" fill="#fff"/>
<text x="629.4" y="473.4" font-size="12" textLength="21.3" lengthAdjust="spacingAndGlyphs" fill="#000" stroke="#000" stroke-width="0.3">18.5</text>
<rect x="184.8" y="482.9" width="13.0" height="11.0" fill="#fff"/>
<text x="185.6" y="492.8" font-size="12" textLength="11.4" lengthAdjust="spacingAndGlyphs" fill="#000" stroke="#000" stroke-width="0.3">18</text>
<rect x="470" y="482" width="23.0" height="11.0" fill="#fff"/>
<text x="470.9" y="491.9" font-size="12" textLength="21.3" lengthAdjust="spacingAndGlyphs" fill="#000" stroke="#000" stroke-width="0.3">18.5</text>
<rect x="399" y="491.3" width="23.0" height="11.0" fill="#fff"/>
<text x="399.9" y="501.2" font-size="12" textLength="21.3" lengthAdjust="spacingAndGlyphs" fill="#000" stroke="#000" stroke-width="0.3">18.5</text>
<rect x="568.5" y="505.5" width="23.0" height="11.0" fill="#fff"/>
<text x="569.4" y="515.4" font-size="12" textLength="21.3" lengthAdjust="spacingAndGlyphs" fill="#000" stroke="#000" stroke-width="0.3">18.5</text>
<rect x="328.5" y="529.8" width="23.0" height="11.0" fill="#fff"/>
<text x="329.4" y="539.7" font-size="12" textLength="21.3" lengthAdjust="spacingAndGlyphs" fill="#000" stroke="#000" stroke-width="0.3">18.5</text>
<rect x="657.5" y="545.5" width="23.0" height="11.0" fill="#fff"/>
<text x="658.4" y="555.4" font-size="12" textLength="21.3" lengthAdjust="spacingAndGlyphs" fill="#000" stroke="#000" stroke-width="0.3">18.5</text>
</g>
<rect x="124.0" y="54.5" width="552.0" height="508.5" fill="none" stroke="#000" stroke-width="2"/>
<g stroke="#000" stroke-width="1.3">
<path d="M124 563.0V567.0"/>
<path d="M194.7 563.0V567.0"/>
<path d="M265.3 563.0V567.0"/>
<path d="M336 563.0V567.0"/>
<path d="M406.6 563.0V567.0"/>
<path d="M477.2 563.0V567.0"/>
<path d="M547.9 563.0V567.0"/>
<path d="M618.6 563.0V567.0"/>
<path d="M120.0 105.2H124.0"/>
<path d="M120.0 190H124.0"/>
<path d="M120.0 274.8H124.0"/>
<path d="M120.0 359.6H124.0"/>
<path d="M120.0 444.4H124.0"/>
<path d="M120.0 529.2H124.0"/>
</g>
<g font-size="13.3" font-weight="bold" fill="#000">
<text x="112.4" y="578.6" textLength="23.8" lengthAdjust="spacingAndGlyphs">28.5</text>
<text x="188.3" y="578.6" textLength="13.4" lengthAdjust="spacingAndGlyphs">29</text>
<text x="253.7" y="578.6" textLength="23.8" lengthAdjust="spacingAndGlyphs">29.5</text>
<text x="329.6" y="578.6" textLength="13.4" lengthAdjust="spacingAndGlyphs">30</text>
<text x="395" y="578.6" textLength="23.8" lengthAdjust="spacingAndGlyphs">30.5</text>
<text x="470.9" y="578.6" textLength="13.4" lengthAdjust="spacingAndGlyphs">31</text>
<text x="536.3" y="578.6" textLength="23.8" lengthAdjust="spacingAndGlyphs">31.5</text>
<text x="612.1" y="578.6" textLength="13.4" lengthAdjust="spacingAndGlyphs">32</text>
<text x="93.4" y="110.3" textLength="23.8" lengthAdjust="spacingAndGlyphs">45.5</text>
<text x="103.8" y="195.1" textLength="13.4" lengthAdjust="spacingAndGlyphs">45</text>
<text x="93.4" y="279.9" textLength="23.8" lengthAdjust="spacingAndGlyphs">44.5</text>
<text x="103.8" y="364.7" textLength="13.4" lengthAdjust="spacingAndGlyphs">44</text>
<text x="93.4" y="449.5" textLength="23.8" lengthAdjust="spacingAndGlyphs">43.5</text>
<text x="103.8" y="534.3" textLength="13.4" lengthAdjust="spacingAndGlyphs">43</text>
</g>
<g font-size="26.8" fill="#000" stroke="#fff" stroke-width="0.45">
<text x="74.20" y="42.0" textLength="79.55" lengthAdjust="spacingAndGlyphs">Salinity</text>
<text x="167.39" y="42.0" textLength="64.75" lengthAdjust="spacingAndGlyphs">(ppt).</text>
<text x="244.66" y="42.0" textLength="50.16" lengthAdjust="spacingAndGlyphs">Date</text>
<text x="309.72" y="42.0" textLength="137.33" lengthAdjust="spacingAndGlyphs">2025.04.24.</text>
<text x="461.22" y="42.0" textLength="51.06" lengthAdjust="spacingAndGlyphs">Time</text>
<text x="526.46" y="42.0" textLength="141.32" lengthAdjust="spacingAndGlyphs">00(h):00(m)</text>
<text x="681.49" y="42.0" textLength="43.02" lengthAdjust="spacingAndGlyphs">GMT</text>
</g>
<g font-size="22" fill="#000" stroke="#fff" stroke-width="0.3">
<text x="321.95" y="605.5" textLength="89.08" lengthAdjust="spacingAndGlyphs">Longitude</text>
<text x="421.44" y="605.5" textLength="55.87" lengthAdjust="spacingAndGlyphs">(East)</text>
<g transform="translate(82,0) rotate(-90)">
<text x="-383.06" y="0" textLength="71.58" lengthAdjust="spacingAndGlyphs">Latitude</text>
<text x="-299.52" y="0" textLength="64.07" lengthAdjust="spacingAndGlyphs">(North)</text>
</g>
</g>
<g shape-rendering="crispEdges">
<rect x="709" y="62" width="14" height="6" fill="#860000"/>
<rect x="709" y="68" width="14" height="6" fill="#930000"/>
<rect x="709" y="74" width="14" height="7" fill="#9f0000"/>
<rect x="709" y="81" width="14" height="6" fill="#ac0000"/>
<rect x="709" y="87" width="14" height="6" fill="#b90000"/>
<rect x="709" y="93" width="14" height="6" fill="#c60000"/>
<rect x="709" y="99" width="14" height="6" fill="#d20000"/>
<rect x="709" y="105" width="14" height="6" fill="#df0000"/>
<rect x="709" y="111" width="14" height="7" fill="#ec0000"/>
<rect x="709" y="118" width="14" height="6" fill="#f90000"/>
<rect x="709" y="124" width="14" height="6" fill="#ff0600"/>
<rect x="709" y="130" width="14" height="6" fill="#ff1300"/>
<rect x="709" y="136" width="14" height="6" fill="#ff2000"/>
<rect x="709" y="142" width="14" height="6" fill="#ff2d00"/>
<rect x="709" y="148" width="14" height="7" fill="#ff3900"/>
<rect x="709" y="155" width="14" height="6" fill="#ff4600"/>
<rect x="709" y="161" width="14" height="6" fill="#ff5300"/>
<rect x="709" y="167" width="14" height="6" fill="#ff6000"/>
<rect x="709" y="173" width="14" height="6" fill="#ff6c00"/>
<rect x="709" y="179" width="14" height="6" fill="#ff7900"/>
<rect x="709" y="185" width="14" height="7" fill="#ff8600"/>
<rect x="709" y="192" width="14" height="6" fill="#ff9300"/>
<rect x="709" y="198" width="14" height="6" fill="#ff9f00"/>
<rect x="709" y="204" width="14" height="6" fill="#ffac00"/>
<rect x="709" y="210" width="14" height="6" fill="#ffb900"/>
<rect x="709" y="216" width="14" height="6" fill="#ffc600"/>
<rect x="709" y="222" width="14" height="7" fill="#ffd200"/>
<rect x="709" y="229" width="14" height="6" fill="#ffdf00"/>
<rect x="709" y="235" width="14" height="6" fill="#ffec00"/>
<rect x="709" y="241" width="14" height="6" fill="#fff900"/>
<rect x="709" y="247" width="14" height="6" fill="#f9ff06"/>
<rect x="709" y="253" width="14" height="6" fill="#ecff13"/>
<rect x="709" y="259" width="14" height="7" fill="#dfff20"/>
<rect x="709" y="266" width="14" height="6" fill="#d2ff2d"/>
<rect x="709" y="272" width="14" height="6" fill="#c6ff39"/>
<rect x="709" y="278" width="14" height="6" fill="#b9ff46"/>
<rect x="709" y="284" width="14" height="6" fill="#acff53"/>
<rect x="709" y="290" width="14" height="6" fill="#9fff60"/>
<rect x="709" y="296" width="14" height="7" fill="#93ff6c"/>
<rect x="709" y="303" width="14" height="6" fill="#86ff79"/>
<rect x="709" y="309" width="14" height="6" fill="#79ff86"/>
<rect x="709" y="315" width="14" height="6" fill="#6cff93"/>
<rect x="709" y="321" width="14" height="6" fill="#60ff9f"/>
<rect x="709" y="327" width="14" height="6" fill="#53ffac"/>
<rect x="709" y="333" width="14" height="7" fill="#46ffb9"/>
<rect x="709" y="340" width="14" height="6" fill="#39ffc6"/>
<rect x="709" y="346" width="14" height="6" fill="#2dffd2"/>
<rect x="709" y="352" width="14" height="6" fill="#20ffdf"/>
<rect x="709" y="358" width="14" height="6" fill="#13ffec"/>
<rect x="709" y="364" width="14" height="6" fill="#06fff9"/>
<rect x="709" y="370" width="14" height="7" fill="#00f9ff"/>
<rect x="709" y="377" width="14" height="6" fill="#00ecff"/>
<rect x="709" y="383" width="14" height="6" fill="#00dfff"/>
<rect x="709" y="389" width="14" height="6" fill="#00d2ff"/>
<rect x="709" y="395" width="14" height="6" fill="#00c6ff"/>
<rect x="709" y="401" width="14" height="6" fill="#00b9ff"/>
<rect x="709" y="407" width="14" height="7" fill="#00acff"/>
<rect x="709" y="414" width="14" height="6" fill="#009fff"/>
<rect x="709" y="420" width="14" height="6" fill="#0093ff"/>
<rect x="709" y="426" width="14" height="6" fill="#0086ff"/>
<rect x="709" y="432" width="14" height="6" fill="#0079ff"/>
<rect x="709" y="438" width="14" height="6" fill="#006cff"/>
<rect x="709" y="444" width="14" height="7" fill="#0060ff"/>
<rect x="709" y="451" width="14" height="6" fill="#0053ff"/>
<rect x="709" y="457" width="14" height="6" fill="#0046ff"/>
<rect x="709" y="463" width="14" height="6" fill="#0039ff"/>
<rect x="709" y="469" width="14" height="6" fill="#002dff"/>
<rect x="709" y="475" width="14" height="6" fill="#0020ff"/>
<rect x="709" y="481" width="14" height="7" fill="#0013ff"/>
<rect x="709" y="488" width="14" height="6" fill="#0006ff"/>
<rect x="709" y="494" width="14" height="6" fill="#0000f9"/>
<rect x="709" y="500" width="14" height="6" fill="#0000ec"/>
<rect x="709" y="506" width="14" height="6" fill="#0000df"/>
<rect x="709" y="512" width="14" height="6" fill="#0000d2"/>
<rect x="709" y="518" width="14" height="7" fill="#0000c6"/>
<rect x="709" y="525" width="14" height="6" fill="#0000b9"/>
<rect x="709" y="531" width="14" height="6" fill="#0000ac"/>
<rect x="709" y="537" width="14" height="6" fill="#00009f"/>
<rect x="709" y="543" width="14" height="6" fill="#000093"/>
<rect x="709" y="549" width="14" height="6.5" fill="#000086"/>
</g>
<g font-size="14" fill="#000">
<text x="735.0" y="73" textLength="29.4" lengthAdjust="spacingAndGlyphs">18.5</text>
<text x="735.0" y="189" textLength="29.4" lengthAdjust="spacingAndGlyphs">15.6</text>
<text x="735.0" y="311" textLength="29.4" lengthAdjust="spacingAndGlyphs">12.5</text>
<text x="735.0" y="433" textLength="29.4" lengthAdjust="spacingAndGlyphs">9.47</text>
<text x="735.0" y="555" textLength="29.4" lengthAdjust="spacingAndGlyphs">6.38</text>
</g>
</svg></body></html>
